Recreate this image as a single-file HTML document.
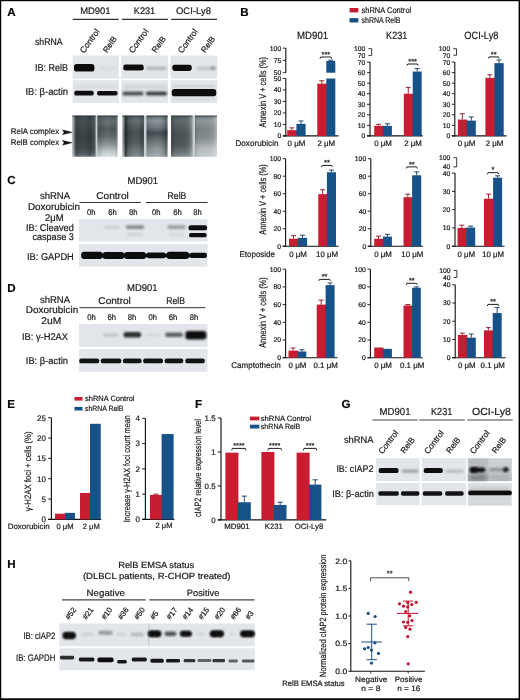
<!DOCTYPE html>
<html><head><meta charset="utf-8"><style>
html,body{margin:0;padding:0;background:#fff;}
svg{display:block;will-change:transform;text-rendering:geometricPrecision;}
text{font-family:"Liberation Sans", sans-serif;stroke:#1a1a1a;stroke-width:0.2px;}
</style></head><body>
<svg width="520" height="700" viewBox="0 0 520 700">
<rect x="0" y="0" width="520" height="700" fill="#fff"/>
<defs>
<linearGradient id="hshade" x1="0" y1="0" x2="1" y2="0"><stop offset="0" stop-color="#fff" stop-opacity="0.6"/><stop offset="0.1" stop-color="#fff" stop-opacity="0.12"/><stop offset="0.3" stop-color="#000" stop-opacity="0.12"/><stop offset="0.5" stop-color="#000" stop-opacity="0.18"/><stop offset="0.7" stop-color="#000" stop-opacity="0.1"/><stop offset="0.9" stop-color="#fff" stop-opacity="0.12"/><stop offset="1" stop-color="#fff" stop-opacity="0.6"/></linearGradient>
<filter id="b3" x="-50%" y="-100%" width="200%" height="300%"><feGaussianBlur stdDeviation="0.3"/></filter><filter id="b4" x="-50%" y="-100%" width="200%" height="300%"><feGaussianBlur stdDeviation="0.4"/></filter><filter id="b5" x="-50%" y="-100%" width="200%" height="300%"><feGaussianBlur stdDeviation="0.5"/></filter><filter id="b6" x="-50%" y="-100%" width="200%" height="300%"><feGaussianBlur stdDeviation="0.6"/></filter><filter id="b7" x="-50%" y="-100%" width="200%" height="300%"><feGaussianBlur stdDeviation="0.7"/></filter><filter id="b8" x="-50%" y="-100%" width="200%" height="300%"><feGaussianBlur stdDeviation="0.8"/></filter><filter id="b9" x="-50%" y="-100%" width="200%" height="300%"><feGaussianBlur stdDeviation="0.9"/></filter><filter id="b10" x="-50%" y="-100%" width="200%" height="300%"><feGaussianBlur stdDeviation="1.0"/></filter><filter id="b11" x="-50%" y="-100%" width="200%" height="300%"><feGaussianBlur stdDeviation="1.1"/></filter><filter id="b12" x="-50%" y="-100%" width="200%" height="300%"><feGaussianBlur stdDeviation="1.2"/></filter><filter id="b13" x="-50%" y="-100%" width="200%" height="300%"><feGaussianBlur stdDeviation="1.3"/></filter><filter id="b14" x="-50%" y="-100%" width="200%" height="300%"><feGaussianBlur stdDeviation="1.4"/></filter><filter id="b15" x="-50%" y="-100%" width="200%" height="300%"><feGaussianBlur stdDeviation="1.5"/></filter><filter id="b16" x="-50%" y="-100%" width="200%" height="300%"><feGaussianBlur stdDeviation="1.6"/></filter><filter id="b17" x="-50%" y="-100%" width="200%" height="300%"><feGaussianBlur stdDeviation="1.7"/></filter><filter id="b18" x="-50%" y="-100%" width="200%" height="300%"><feGaussianBlur stdDeviation="1.8"/></filter><filter id="b19" x="-50%" y="-100%" width="200%" height="300%"><feGaussianBlur stdDeviation="1.9"/></filter><filter id="b20" x="-50%" y="-100%" width="200%" height="300%"><feGaussianBlur stdDeviation="2.0"/></filter><filter id="b21" x="-50%" y="-100%" width="200%" height="300%"><feGaussianBlur stdDeviation="2.1"/></filter><filter id="b22" x="-50%" y="-100%" width="200%" height="300%"><feGaussianBlur stdDeviation="2.2"/></filter><filter id="b23" x="-50%" y="-100%" width="200%" height="300%"><feGaussianBlur stdDeviation="2.3"/></filter><filter id="b24" x="-50%" y="-100%" width="200%" height="300%"><feGaussianBlur stdDeviation="2.4"/></filter><filter id="b25" x="-50%" y="-100%" width="200%" height="300%"><feGaussianBlur stdDeviation="2.5"/></filter><filter id="b26" x="-50%" y="-100%" width="200%" height="300%"><feGaussianBlur stdDeviation="2.6"/></filter><filter id="b27" x="-50%" y="-100%" width="200%" height="300%"><feGaussianBlur stdDeviation="2.7"/></filter><filter id="b28" x="-50%" y="-100%" width="200%" height="300%"><feGaussianBlur stdDeviation="2.8"/></filter><filter id="b29" x="-50%" y="-100%" width="200%" height="300%"><feGaussianBlur stdDeviation="2.9"/></filter><filter id="b30" x="-50%" y="-100%" width="200%" height="300%"><feGaussianBlur stdDeviation="3.0"/></filter></defs>
<text x="7.20" y="15.60" font-size="11.6" text-anchor="start" font-weight="bold" fill="#000">A</text>
<text x="95.30" y="14.10" font-size="9.5" text-anchor="middle" font-weight="normal" fill="#1a1a1a" textLength="30.33" lengthAdjust="spacingAndGlyphs" dx="0.02">MD901</text>
<text x="144.50" y="14.10" font-size="9.5" text-anchor="middle" font-weight="normal" fill="#1a1a1a" textLength="21.46" lengthAdjust="spacingAndGlyphs" dx="-0.02">K231</text>
<text x="193.50" y="14.10" font-size="9.5" text-anchor="middle" font-weight="normal" fill="#1a1a1a" textLength="34.96" lengthAdjust="spacingAndGlyphs" dx="-0.02">OCI-Ly8</text>
<line x1="72.7" y1="19.3" x2="118.7" y2="19.3" stroke="#333" stroke-width="1.2"/>
<line x1="121.9" y1="19.3" x2="168" y2="19.3" stroke="#333" stroke-width="1.2"/>
<line x1="171.1" y1="19.3" x2="217.1" y2="19.3" stroke="#333" stroke-width="1.2"/>
<text x="35.00" y="44.50" font-size="9.8" text-anchor="start" font-weight="normal" fill="#1a1a1a" textLength="27.48" lengthAdjust="spacingAndGlyphs" dx="0.00">shRNA</text>
<text x="84.00" y="53.70" font-size="8.5" text-anchor="start" font-weight="normal" fill="#1a1a1a" transform="rotate(-54 84.00 53.70)">Control</text>
<text x="106.90" y="53.20" font-size="8.2" text-anchor="start" font-weight="normal" fill="#1a1a1a" transform="rotate(-54 106.90 53.20)">RelB</text>
<text x="132.90" y="53.70" font-size="8.5" text-anchor="start" font-weight="normal" fill="#1a1a1a" transform="rotate(-54 132.90 53.70)">Control</text>
<text x="155.80" y="53.20" font-size="8.2" text-anchor="start" font-weight="normal" fill="#1a1a1a" transform="rotate(-54 155.80 53.20)">RelB</text>
<text x="182.10" y="53.70" font-size="8.5" text-anchor="start" font-weight="normal" fill="#1a1a1a" transform="rotate(-54 182.10 53.70)">Control</text>
<text x="205.00" y="53.20" font-size="8.2" text-anchor="start" font-weight="normal" fill="#1a1a1a" transform="rotate(-54 205.00 53.20)">RelB</text>
<text x="68.00" y="71.30" font-size="10" text-anchor="end" font-weight="normal" fill="#1a1a1a" textLength="32.98" lengthAdjust="spacingAndGlyphs" dx="-0.02">IB: RelB</text>
<text x="68.00" y="95.00" font-size="10" text-anchor="end" font-weight="normal" fill="#1a1a1a" textLength="42.51" lengthAdjust="spacingAndGlyphs" dx="0.01">IB: β-actin</text>
<text x="10.80" y="134.40" font-size="8.1" text-anchor="start" font-weight="normal" fill="#1a1a1a" textLength="48.33" lengthAdjust="spacingAndGlyphs" dx="0.00">RelA complex</text>
<text x="10.80" y="144.50" font-size="8.1" text-anchor="start" font-weight="normal" fill="#1a1a1a" textLength="48.29" lengthAdjust="spacingAndGlyphs" dx="0.00">RelB complex</text>
<path d="M62.4,129.8 L72.3,132.3 L62.4,134.8 L64.0,132.3 Z" fill="#111" stroke="#111" stroke-width="0.3" stroke-linejoin="round"/>
<path d="M62.4,140.3 L72.3,142.8 L62.4,145.3 L64.0,142.8 Z" fill="#111" stroke="#111" stroke-width="0.3" stroke-linejoin="round"/>
<rect x="72.7" y="55.5" width="46.099999999999994" height="23.2" fill="#e2e5e9"/>
<rect x="72.7" y="80.2" width="46.099999999999994" height="22.7" fill="#e2e5e9"/>
<rect x="121.3" y="55.5" width="46.8" height="23.2" fill="#e2e5e9"/>
<rect x="121.3" y="80.2" width="46.8" height="22.7" fill="#e2e5e9"/>
<rect x="170.5" y="55.5" width="46.80000000000001" height="23.2" fill="#e2e5e9"/>
<rect x="170.5" y="80.2" width="46.80000000000001" height="22.7" fill="#e2e5e9"/>
<rect x="73.95" y="64.00" width="20.50" height="7.60" rx="2.92" ry="2.92" fill="#111" opacity="1.0" filter="url(#b6)"/>
<rect x="99.00" y="66.50" width="18.00" height="4.00" rx="1.54" ry="1.54" fill="#111" opacity="0.04" filter="url(#b12)"/>
<rect x="123.25" y="64.60" width="20.50" height="6.00" rx="2.31" ry="2.31" fill="#111" opacity="1.0" filter="url(#b6)"/>
<rect x="146.50" y="66.70" width="20.00" height="3.20" rx="1.23" ry="1.23" fill="#111" opacity="0.22" filter="url(#b10)"/>
<rect x="172.25" y="64.70" width="19.50" height="6.20" rx="2.38" ry="2.38" fill="#111" opacity="1.0" filter="url(#b6)"/>
<rect x="197.00" y="66.70" width="19.00" height="3.20" rx="1.23" ry="1.23" fill="#111" opacity="0.15" filter="url(#b10)"/>
<rect x="210.50" y="66.55" width="5.00" height="3.50" rx="1.35" ry="1.35" fill="#111" opacity="0.25" filter="url(#b10)"/>
<rect x="74.25" y="90.80" width="19.50" height="4.80" rx="1.85" ry="1.85" fill="#111" opacity="1.0" filter="url(#b6)"/>
<rect x="97.05" y="90.90" width="20.50" height="4.60" rx="1.77" ry="1.77" fill="#111" opacity="1.0" filter="url(#b6)"/>
<rect x="122.50" y="91.40" width="21.00" height="4.00" rx="1.54" ry="1.54" fill="#111" opacity="0.7" filter="url(#b8)"/>
<rect x="146.00" y="91.40" width="21.00" height="4.00" rx="1.54" ry="1.54" fill="#111" opacity="0.78" filter="url(#b8)"/>
<rect x="171.75" y="88.90" width="44.50" height="7.40" rx="2.85" ry="2.85" fill="#111" opacity="1.0" filter="url(#b6)"/>
<rect x="173.00" y="85.30" width="42.00" height="2.00" rx="0.77" ry="0.77" fill="#111" opacity="0.12" filter="url(#b10)"/>
<rect x="173.00" y="98.50" width="42.00" height="1.60" rx="0.62" ry="0.62" fill="#111" opacity="0.1" filter="url(#b10)"/>
<rect x="123.00" y="85.00" width="44.00" height="3.00" rx="1.15" ry="1.15" fill="#111" opacity="0.1" filter="url(#b15)"/>
<rect x="74.00" y="85.25" width="44.00" height="2.50" rx="0.96" ry="0.96" fill="#111" opacity="0.06" filter="url(#b15)"/>
<rect x="72.3" y="115.6" width="45.400000000000006" height="41.099999999999994" fill="#c9ced1"/>
<rect x="122.3" y="115.6" width="45.39999999999999" height="41.099999999999994" fill="#c9ced1"/>
<rect x="171.2" y="115.6" width="45.70000000000002" height="41.099999999999994" fill="#c9ced1"/>
<linearGradient id="em1v" x1="0" y1="0" x2="0" y2="1"><stop offset="0" stop-color="#3f484b"/><stop offset="0.15" stop-color="#4a5356"/><stop offset="0.5" stop-color="#3d4649"/><stop offset="0.8" stop-color="#454e51"/><stop offset="0.93" stop-color="#59626a"/><stop offset="1" stop-color="#7a8285"/></linearGradient>
<linearGradient id="em1h" x1="0" y1="0" x2="1" y2="0"><stop offset="0" stop-color="#ffffff" stop-opacity="0.75"/><stop offset="0.1" stop-color="#ffffff" stop-opacity="0.2"/><stop offset="0.2" stop-color="#000000" stop-opacity="0.1"/><stop offset="0.5" stop-color="#000000" stop-opacity="0.05"/><stop offset="0.85" stop-color="#000000" stop-opacity="0.12"/><stop offset="1" stop-color="#ffffff" stop-opacity="0.1"/></linearGradient>
<rect x="72.3" y="115.6" width="23.299999999999997" height="41.099999999999994" fill="url(#em1v)"/>
<rect x="72.3" y="115.6" width="23.299999999999997" height="41.099999999999994" fill="url(#em1h)"/>
<rect x="72.3" y="115.6" width="23.299999999999997" height="1.2" fill="#2a3336" opacity="0.55" filter="url(#b5)"/>
<linearGradient id="em2v" x1="0" y1="0" x2="0" y2="1"><stop offset="0" stop-color="#4e585b"/><stop offset="0.15" stop-color="#626b6e"/><stop offset="0.33" stop-color="#4e585b"/><stop offset="0.5" stop-color="#5c6669"/><stop offset="0.7" stop-color="#8a9295"/><stop offset="0.86" stop-color="#bfc5c8"/><stop offset="1" stop-color="#dfe3e5"/></linearGradient>
<linearGradient id="em2h" x1="0" y1="0" x2="1" y2="0"><stop offset="0" stop-color="#000000" stop-opacity="0.1"/><stop offset="0.15" stop-color="#000000" stop-opacity="0.05"/><stop offset="0.5" stop-color="#ffffff" stop-opacity="0.05"/><stop offset="0.85" stop-color="#000000" stop-opacity="0.0"/><stop offset="1" stop-color="#ffffff" stop-opacity="0.45"/></linearGradient>
<rect x="97.4" y="115.6" width="20.299999999999997" height="41.099999999999994" fill="url(#em2v)"/>
<rect x="97.4" y="115.6" width="20.299999999999997" height="41.099999999999994" fill="url(#em2h)"/>
<rect x="97.4" y="115.6" width="20.299999999999997" height="1.2" fill="#2a3336" opacity="0.55" filter="url(#b5)"/>
<linearGradient id="em3v" x1="0" y1="0" x2="0" y2="1"><stop offset="0" stop-color="#465053"/><stop offset="0.12" stop-color="#5e676a"/><stop offset="0.4" stop-color="#3f494c"/><stop offset="0.65" stop-color="#4a5457"/><stop offset="0.88" stop-color="#6e7679"/><stop offset="1" stop-color="#7e8689"/></linearGradient>
<linearGradient id="em3h" x1="0" y1="0" x2="1" y2="0"><stop offset="0" stop-color="#ffffff" stop-opacity="0.7"/><stop offset="0.08" stop-color="#ffffff" stop-opacity="0.2"/><stop offset="0.15" stop-color="#000000" stop-opacity="0.45"/><stop offset="0.25" stop-color="#000000" stop-opacity="0.15"/><stop offset="0.7" stop-color="#ffffff" stop-opacity="0.05"/><stop offset="0.93" stop-color="#000000" stop-opacity="0.05"/><stop offset="1" stop-color="#000000" stop-opacity="0.25"/></linearGradient>
<rect x="122.3" y="115.6" width="21.60000000000001" height="41.099999999999994" fill="url(#em3v)"/>
<rect x="122.3" y="115.6" width="21.60000000000001" height="41.099999999999994" fill="url(#em3h)"/>
<rect x="122.3" y="115.6" width="21.60000000000001" height="1.2" fill="#2a3336" opacity="0.55" filter="url(#b5)"/>
<linearGradient id="em4v" x1="0" y1="0" x2="0" y2="1"><stop offset="0" stop-color="#5a6366"/><stop offset="0.12" stop-color="#8a9295"/><stop offset="0.3" stop-color="#67707a"/><stop offset="0.42" stop-color="#3e484b"/><stop offset="0.55" stop-color="#5a6366"/><stop offset="0.8" stop-color="#8a9295"/><stop offset="1" stop-color="#a3aaad"/></linearGradient>
<linearGradient id="em4h" x1="0" y1="0" x2="1" y2="0"><stop offset="0" stop-color="#000000" stop-opacity="0.1"/><stop offset="0.1" stop-color="#000000" stop-opacity="0.05"/><stop offset="0.5" stop-color="#ffffff" stop-opacity="0.05"/><stop offset="0.85" stop-color="#000000" stop-opacity="0.1"/><stop offset="0.93" stop-color="#000000" stop-opacity="0.25"/><stop offset="1" stop-color="#ffffff" stop-opacity="0.2"/></linearGradient>
<rect x="146.5" y="115.6" width="21.19999999999999" height="41.099999999999994" fill="url(#em4v)"/>
<rect x="146.5" y="115.6" width="21.19999999999999" height="41.099999999999994" fill="url(#em4h)"/>
<rect x="146.5" y="115.6" width="21.19999999999999" height="1.2" fill="#2a3336" opacity="0.55" filter="url(#b5)"/>
<linearGradient id="em5v" x1="0" y1="0" x2="0" y2="1"><stop offset="0" stop-color="#4e585b"/><stop offset="0.12" stop-color="#626b6e"/><stop offset="0.45" stop-color="#4a5457"/><stop offset="0.7" stop-color="#4e585b"/><stop offset="0.88" stop-color="#6a7376"/><stop offset="1" stop-color="#8a9295"/></linearGradient>
<linearGradient id="em5h" x1="0" y1="0" x2="1" y2="0"><stop offset="0" stop-color="#000000" stop-opacity="0.3"/><stop offset="0.08" stop-color="#000000" stop-opacity="0.1"/><stop offset="0.5" stop-color="#000000" stop-opacity="0.0"/><stop offset="0.85" stop-color="#ffffff" stop-opacity="0.1"/><stop offset="1" stop-color="#ffffff" stop-opacity="0.35"/></linearGradient>
<rect x="171.2" y="115.6" width="21.30000000000001" height="41.099999999999994" fill="url(#em5v)"/>
<rect x="171.2" y="115.6" width="21.30000000000001" height="41.099999999999994" fill="url(#em5h)"/>
<rect x="171.2" y="115.6" width="21.30000000000001" height="1.2" fill="#2a3336" opacity="0.55" filter="url(#b5)"/>
<linearGradient id="em6v" x1="0" y1="0" x2="0" y2="1"><stop offset="0" stop-color="#6a7376"/><stop offset="0.12" stop-color="#8d9598"/><stop offset="0.35" stop-color="#7a8285"/><stop offset="0.55" stop-color="#858d90"/><stop offset="0.8" stop-color="#b4babd"/><stop offset="1" stop-color="#c8cdd0"/></linearGradient>
<linearGradient id="em6h" x1="0" y1="0" x2="1" y2="0"><stop offset="0" stop-color="#000000" stop-opacity="0.15"/><stop offset="0.1" stop-color="#000000" stop-opacity="0.05"/><stop offset="0.5" stop-color="#ffffff" stop-opacity="0.0"/><stop offset="0.8" stop-color="#ffffff" stop-opacity="0.1"/><stop offset="1" stop-color="#ffffff" stop-opacity="0.35"/></linearGradient>
<rect x="195.0" y="115.6" width="21.900000000000006" height="41.099999999999994" fill="url(#em6v)"/>
<rect x="195.0" y="115.6" width="21.900000000000006" height="41.099999999999994" fill="url(#em6h)"/>
<rect x="195.0" y="115.6" width="21.900000000000006" height="1.2" fill="#2a3336" opacity="0.55" filter="url(#b5)"/>
<rect x="75.25" y="116.6" width="2.5" height="39.10" fill="#1c2528" opacity="0.25" filter="url(#b8)"/>
<rect x="87.50" y="116.6" width="3" height="39.10" fill="#1c2528" opacity="0.2" filter="url(#b8)"/>
<rect x="124.70" y="116.6" width="2.2" height="39.10" fill="#1c2528" opacity="0.45" filter="url(#b8)"/>
<rect x="140.75" y="116.6" width="1.5" height="39.10" fill="#1c2528" opacity="0.2" filter="url(#b8)"/>
<rect x="164.70" y="116.6" width="1.6" height="39.10" fill="#1c2528" opacity="0.3" filter="url(#b8)"/>
<rect x="171.65" y="116.6" width="1.3" height="39.10" fill="#1c2528" opacity="0.3" filter="url(#b8)"/>
<rect x="99.00" y="116.6" width="2" height="39.10" fill="#1c2528" opacity="0.1" filter="url(#b8)"/>
<text x="240.30" y="16.00" font-size="11.6" text-anchor="start" font-weight="bold" fill="#000">B</text>
<rect x="349.6" y="8.0" width="8.7" height="4.4" fill="#c81d31"/>
<rect x="349.6" y="18.1" width="8.7" height="4.4" fill="#165288"/>
<text x="361.50" y="12.60" font-size="8.4" text-anchor="start" font-weight="normal" fill="#1a1a1a" textLength="49.73" lengthAdjust="spacingAndGlyphs" dx="0.00">shRNA Control</text>
<text x="361.50" y="22.80" font-size="8.4" text-anchor="start" font-weight="normal" fill="#1a1a1a" textLength="38.98" lengthAdjust="spacingAndGlyphs" dx="0.00">shRNA RelB</text>
<text x="312.60" y="39.00" font-size="10.5" text-anchor="middle" font-weight="normal" fill="#1a1a1a" textLength="31.03" lengthAdjust="spacingAndGlyphs" dx="0.02">MD901</text>
<text x="396.70" y="38.60" font-size="10.5" text-anchor="middle" font-weight="normal" fill="#1a1a1a" textLength="21.16" lengthAdjust="spacingAndGlyphs" dx="-0.02">K231</text>
<text x="481.40" y="39.00" font-size="10.5" text-anchor="middle" font-weight="normal" fill="#1a1a1a" textLength="34.26" lengthAdjust="spacingAndGlyphs" dx="-0.02">OCI-Ly8</text>
<line x1="285.8" y1="48.1" x2="285.8" y2="72.7" stroke="#111" stroke-width="1.1"/>
<line x1="282.8" y1="48.1" x2="285.8" y2="48.1" stroke="#111" stroke-width="0.9"/>
<text x="281.20" y="50.51" font-size="6.8" text-anchor="end" font-weight="normal" fill="#222">100</text>
<line x1="282.8" y1="60.400000000000006" x2="285.8" y2="60.400000000000006" stroke="#111" stroke-width="0.9"/>
<text x="281.20" y="62.81" font-size="6.8" text-anchor="end" font-weight="normal" fill="#222">75</text>
<line x1="282.8" y1="72.7" x2="285.8" y2="72.7" stroke="#111" stroke-width="0.9"/>
<text x="281.20" y="75.11" font-size="6.8" text-anchor="end" font-weight="normal" fill="#222">50</text>
<line x1="285.8" y1="78.5" x2="285.8" y2="136.4" stroke="#111" stroke-width="1.1"/>
<line x1="282.8" y1="78.5" x2="285.8" y2="78.5" stroke="#111" stroke-width="0.9"/>
<text x="281.20" y="80.91" font-size="6.8" text-anchor="end" font-weight="normal" fill="#222">50</text>
<line x1="282.8" y1="89.98" x2="285.8" y2="89.98" stroke="#111" stroke-width="0.9"/>
<text x="281.20" y="92.39" font-size="6.8" text-anchor="end" font-weight="normal" fill="#222">40</text>
<line x1="282.8" y1="101.46000000000001" x2="285.8" y2="101.46000000000001" stroke="#111" stroke-width="0.9"/>
<text x="281.20" y="103.87" font-size="6.8" text-anchor="end" font-weight="normal" fill="#222">30</text>
<line x1="282.8" y1="112.94" x2="285.8" y2="112.94" stroke="#111" stroke-width="0.9"/>
<text x="281.20" y="115.35" font-size="6.8" text-anchor="end" font-weight="normal" fill="#222">20</text>
<line x1="282.8" y1="124.42" x2="285.8" y2="124.42" stroke="#111" stroke-width="0.9"/>
<text x="281.20" y="126.83" font-size="6.8" text-anchor="end" font-weight="normal" fill="#222">10</text>
<line x1="282.8" y1="135.9" x2="285.8" y2="135.9" stroke="#111" stroke-width="0.9"/>
<text x="281.20" y="138.31" font-size="6.8" text-anchor="end" font-weight="normal" fill="#222">0</text>
<line x1="282.8" y1="135.9" x2="338.5" y2="135.9" stroke="#111" stroke-width="1.1"/>
<rect x="287.20" y="130.16" width="9.80" height="5.74" fill="#c81d31"/>
<line x1="291.8" y1="130.16" x2="291.8" y2="127.864" stroke="#8a1020" stroke-width="0.9"/>
<line x1="289.3" y1="127.864" x2="294.3" y2="127.864" stroke="#8a1020" stroke-width="0.9"/>
<rect x="296.40" y="123.85" width="9.20" height="12.05" fill="#165288"/>
<line x1="301.0" y1="123.846" x2="301.0" y2="120.976" stroke="#0c3560" stroke-width="0.9"/>
<line x1="298.5" y1="120.976" x2="303.5" y2="120.976" stroke="#0c3560" stroke-width="0.9"/>
<rect x="317.30" y="83.67" width="9.60" height="52.23" fill="#c81d31"/>
<line x1="321.8" y1="83.666" x2="321.8" y2="80.79599999999999" stroke="#8a1020" stroke-width="0.9"/>
<line x1="319.3" y1="80.79599999999999" x2="324.3" y2="80.79599999999999" stroke="#8a1020" stroke-width="0.9"/>
<rect x="326.30" y="78.50" width="9.00" height="57.40" fill="#165288"/>
<rect x="326.30" y="60.89" width="9.00" height="11.81" fill="#165288"/>
<line x1="330.8" y1="60.892" x2="330.8" y2="60.154" stroke="#0c3560" stroke-width="0.9"/>
<line x1="328.3" y1="60.154" x2="333.3" y2="60.154" stroke="#0c3560" stroke-width="0.9"/>
<polyline points="320,58.6 320.7,57 331.0,57 331.7,58.6" fill="none" stroke="#111" stroke-width="0.95"/>
<text x="325.85" y="56.60" font-size="7.4" text-anchor="middle" font-weight="normal" fill="#111">***</text>
<text x="296.40" y="146.30" font-size="7.9" text-anchor="middle" font-weight="normal" fill="#111">0 μM</text>
<text x="326.30" y="146.30" font-size="7.9" text-anchor="middle" font-weight="normal" fill="#111">2 μM</text>
<line x1="370.0" y1="62.1" x2="370.0" y2="136.4" stroke="#111" stroke-width="1.1"/>
<line x1="367.0" y1="62.099999999999994" x2="370.0" y2="62.099999999999994" stroke="#111" stroke-width="0.9"/>
<text x="365.40" y="64.51" font-size="6.8" text-anchor="end" font-weight="normal" fill="#222">70</text>
<line x1="367.0" y1="72.64285714285714" x2="370.0" y2="72.64285714285714" stroke="#111" stroke-width="0.9"/>
<text x="365.40" y="75.05" font-size="6.8" text-anchor="end" font-weight="normal" fill="#222">60</text>
<line x1="367.0" y1="83.18571428571428" x2="370.0" y2="83.18571428571428" stroke="#111" stroke-width="0.9"/>
<text x="365.40" y="85.59" font-size="6.8" text-anchor="end" font-weight="normal" fill="#222">50</text>
<line x1="367.0" y1="93.72857142857143" x2="370.0" y2="93.72857142857143" stroke="#111" stroke-width="0.9"/>
<text x="365.40" y="96.14" font-size="6.8" text-anchor="end" font-weight="normal" fill="#222">40</text>
<line x1="367.0" y1="104.27142857142857" x2="370.0" y2="104.27142857142857" stroke="#111" stroke-width="0.9"/>
<text x="365.40" y="106.68" font-size="6.8" text-anchor="end" font-weight="normal" fill="#222">30</text>
<line x1="367.0" y1="114.81428571428572" x2="370.0" y2="114.81428571428572" stroke="#111" stroke-width="0.9"/>
<text x="365.40" y="117.22" font-size="6.8" text-anchor="end" font-weight="normal" fill="#222">20</text>
<line x1="367.0" y1="125.35714285714286" x2="370.0" y2="125.35714285714286" stroke="#111" stroke-width="0.9"/>
<text x="365.40" y="127.76" font-size="6.8" text-anchor="end" font-weight="normal" fill="#222">10</text>
<line x1="367.0" y1="135.9" x2="370.0" y2="135.9" stroke="#111" stroke-width="0.9"/>
<text x="365.40" y="138.31" font-size="6.8" text-anchor="end" font-weight="normal" fill="#222">0</text>
<polyline points="368.4,48.7 371.7,48.7 371.7,55.4 368.4,55.4" fill="none" stroke="#222" stroke-width="0.9"/>
<text x="365.40" y="51.11" font-size="6.8" text-anchor="end" font-weight="normal" fill="#222">100</text>
<text x="365.40" y="57.81" font-size="6.8" text-anchor="end" font-weight="normal" fill="#222">70</text>
<line x1="367.0" y1="135.9" x2="422.7" y2="135.9" stroke="#111" stroke-width="1.1"/>
<rect x="374.20" y="125.88" width="9.30" height="10.02" fill="#c81d31"/>
<line x1="378.55" y1="125.88428571428572" x2="378.55" y2="124.30285714285715" stroke="#8a1020" stroke-width="0.9"/>
<line x1="376.05" y1="124.30285714285715" x2="381.05" y2="124.30285714285715" stroke="#8a1020" stroke-width="0.9"/>
<rect x="382.90" y="125.88" width="9.00" height="10.02" fill="#165288"/>
<line x1="387.4" y1="125.88428571428572" x2="387.4" y2="123.77571428571429" stroke="#0c3560" stroke-width="0.9"/>
<line x1="384.9" y1="123.77571428571429" x2="389.9" y2="123.77571428571429" stroke="#0c3560" stroke-width="0.9"/>
<rect x="403.80" y="93.73" width="9.50" height="42.17" fill="#c81d31"/>
<line x1="408.25" y1="93.72857142857143" x2="408.25" y2="87.40285714285713" stroke="#8a1020" stroke-width="0.9"/>
<line x1="405.75" y1="87.40285714285713" x2="410.75" y2="87.40285714285713" stroke="#8a1020" stroke-width="0.9"/>
<rect x="412.70" y="71.59" width="9.00" height="64.31" fill="#165288"/>
<line x1="417.2" y1="71.58857142857141" x2="417.2" y2="68.42571428571428" stroke="#0c3560" stroke-width="0.9"/>
<line x1="414.7" y1="68.42571428571428" x2="419.7" y2="68.42571428571428" stroke="#0c3560" stroke-width="0.9"/>
<polyline points="407,65.6 407.7,64 417.5,64 418.2,65.6" fill="none" stroke="#111" stroke-width="0.95"/>
<text x="412.60" y="63.60" font-size="7.4" text-anchor="middle" font-weight="normal" fill="#111">***</text>
<text x="383.00" y="146.30" font-size="7.9" text-anchor="middle" font-weight="normal" fill="#111">0 μM</text>
<text x="413.00" y="146.30" font-size="7.9" text-anchor="middle" font-weight="normal" fill="#111">2 μM</text>
<line x1="454.8" y1="62.1" x2="454.8" y2="136.4" stroke="#111" stroke-width="1.1"/>
<line x1="451.8" y1="62.099999999999994" x2="454.8" y2="62.099999999999994" stroke="#111" stroke-width="0.9"/>
<text x="450.20" y="64.51" font-size="6.8" text-anchor="end" font-weight="normal" fill="#222">70</text>
<line x1="451.8" y1="72.64285714285714" x2="454.8" y2="72.64285714285714" stroke="#111" stroke-width="0.9"/>
<text x="450.20" y="75.05" font-size="6.8" text-anchor="end" font-weight="normal" fill="#222">60</text>
<line x1="451.8" y1="83.18571428571428" x2="454.8" y2="83.18571428571428" stroke="#111" stroke-width="0.9"/>
<text x="450.20" y="85.59" font-size="6.8" text-anchor="end" font-weight="normal" fill="#222">50</text>
<line x1="451.8" y1="93.72857142857143" x2="454.8" y2="93.72857142857143" stroke="#111" stroke-width="0.9"/>
<text x="450.20" y="96.14" font-size="6.8" text-anchor="end" font-weight="normal" fill="#222">40</text>
<line x1="451.8" y1="104.27142857142857" x2="454.8" y2="104.27142857142857" stroke="#111" stroke-width="0.9"/>
<text x="450.20" y="106.68" font-size="6.8" text-anchor="end" font-weight="normal" fill="#222">30</text>
<line x1="451.8" y1="114.81428571428572" x2="454.8" y2="114.81428571428572" stroke="#111" stroke-width="0.9"/>
<text x="450.20" y="117.22" font-size="6.8" text-anchor="end" font-weight="normal" fill="#222">20</text>
<line x1="451.8" y1="125.35714285714286" x2="454.8" y2="125.35714285714286" stroke="#111" stroke-width="0.9"/>
<text x="450.20" y="127.76" font-size="6.8" text-anchor="end" font-weight="normal" fill="#222">10</text>
<line x1="451.8" y1="135.9" x2="454.8" y2="135.9" stroke="#111" stroke-width="0.9"/>
<text x="450.20" y="138.31" font-size="6.8" text-anchor="end" font-weight="normal" fill="#222">0</text>
<polyline points="453.2,48.7 456.5,48.7 456.5,55.2 453.2,55.2" fill="none" stroke="#222" stroke-width="0.9"/>
<text x="450.20" y="51.11" font-size="6.8" text-anchor="end" font-weight="normal" fill="#222">100</text>
<text x="450.20" y="57.61" font-size="6.8" text-anchor="end" font-weight="normal" fill="#222">70</text>
<line x1="451.8" y1="135.9" x2="506.5" y2="135.9" stroke="#111" stroke-width="1.1"/>
<rect x="457.90" y="119.56" width="9.40" height="16.34" fill="#c81d31"/>
<line x1="462.3" y1="119.55857142857144" x2="462.3" y2="113.76" stroke="#8a1020" stroke-width="0.9"/>
<line x1="459.8" y1="113.76" x2="464.8" y2="113.76" stroke="#8a1020" stroke-width="0.9"/>
<rect x="466.70" y="120.61" width="9.10" height="15.29" fill="#165288"/>
<line x1="471.25" y1="120.61285714285715" x2="471.25" y2="116.92285714285714" stroke="#0c3560" stroke-width="0.9"/>
<line x1="468.75" y1="116.92285714285714" x2="473.75" y2="116.92285714285714" stroke="#0c3560" stroke-width="0.9"/>
<rect x="485.40" y="77.91" width="9.60" height="57.99" fill="#c81d31"/>
<line x1="489.9" y1="77.91428571428571" x2="489.9" y2="74.75142857142856" stroke="#8a1020" stroke-width="0.9"/>
<line x1="487.4" y1="74.75142857142856" x2="492.4" y2="74.75142857142856" stroke="#8a1020" stroke-width="0.9"/>
<rect x="494.40" y="63.15" width="9.30" height="72.75" fill="#165288"/>
<line x1="499.04999999999995" y1="63.154285714285706" x2="499.04999999999995" y2="59.99142857142857" stroke="#0c3560" stroke-width="0.9"/>
<line x1="496.54999999999995" y1="59.99142857142857" x2="501.54999999999995" y2="59.99142857142857" stroke="#0c3560" stroke-width="0.9"/>
<polyline points="488.3,58.5 489.0,56.9 498.5,56.9 499.2,58.5" fill="none" stroke="#111" stroke-width="0.95"/>
<text x="493.75" y="56.50" font-size="7.4" text-anchor="middle" font-weight="normal" fill="#111">**</text>
<text x="466.50" y="146.30" font-size="7.9" text-anchor="middle" font-weight="normal" fill="#111">0 μM</text>
<text x="494.50" y="146.30" font-size="7.9" text-anchor="middle" font-weight="normal" fill="#111">2 μM</text>
<text x="278.50" y="146.30" font-size="8.3" text-anchor="end" font-weight="normal" fill="#1a1a1a" textLength="43.10" lengthAdjust="spacingAndGlyphs" dx="0.00">Doxorubicin</text>
<line x1="285.6" y1="158.7" x2="285.6" y2="246.7" stroke="#111" stroke-width="1.1"/>
<line x1="282.6" y1="158.7" x2="285.6" y2="158.7" stroke="#111" stroke-width="0.9"/>
<text x="281.00" y="161.11" font-size="6.8" text-anchor="end" font-weight="normal" fill="#222">100</text>
<line x1="282.6" y1="176.2" x2="285.6" y2="176.2" stroke="#111" stroke-width="0.9"/>
<text x="281.00" y="178.61" font-size="6.8" text-anchor="end" font-weight="normal" fill="#222">80</text>
<line x1="282.6" y1="193.7" x2="285.6" y2="193.7" stroke="#111" stroke-width="0.9"/>
<text x="281.00" y="196.11" font-size="6.8" text-anchor="end" font-weight="normal" fill="#222">60</text>
<line x1="282.6" y1="211.2" x2="285.6" y2="211.2" stroke="#111" stroke-width="0.9"/>
<text x="281.00" y="213.61" font-size="6.8" text-anchor="end" font-weight="normal" fill="#222">40</text>
<line x1="282.6" y1="228.7" x2="285.6" y2="228.7" stroke="#111" stroke-width="0.9"/>
<text x="281.00" y="231.11" font-size="6.8" text-anchor="end" font-weight="normal" fill="#222">20</text>
<line x1="282.6" y1="246.2" x2="285.6" y2="246.2" stroke="#111" stroke-width="0.9"/>
<text x="281.00" y="248.61" font-size="6.8" text-anchor="end" font-weight="normal" fill="#222">0</text>
<line x1="282.6" y1="246.2" x2="338.5" y2="246.2" stroke="#111" stroke-width="1.1"/>
<rect x="289.00" y="238.76" width="9.60" height="7.44" fill="#c81d31"/>
<line x1="293.5" y1="238.7625" x2="293.5" y2="235.7" stroke="#8a1020" stroke-width="0.9"/>
<line x1="291.0" y1="235.7" x2="296.0" y2="235.7" stroke="#8a1020" stroke-width="0.9"/>
<rect x="298.00" y="237.89" width="9.10" height="8.31" fill="#165288"/>
<line x1="302.55" y1="237.8875" x2="302.55" y2="235.2625" stroke="#0c3560" stroke-width="0.9"/>
<line x1="300.05" y1="235.2625" x2="305.05" y2="235.2625" stroke="#0c3560" stroke-width="0.9"/>
<rect x="318.30" y="194.14" width="9.20" height="52.06" fill="#c81d31"/>
<line x1="322.59999999999997" y1="194.1375" x2="322.59999999999997" y2="189.7625" stroke="#8a1020" stroke-width="0.9"/>
<line x1="320.09999999999997" y1="189.7625" x2="325.09999999999997" y2="189.7625" stroke="#8a1020" stroke-width="0.9"/>
<rect x="326.90" y="172.26" width="9.10" height="73.94" fill="#165288"/>
<line x1="331.45" y1="172.2625" x2="331.45" y2="170.075" stroke="#0c3560" stroke-width="0.9"/>
<line x1="328.95" y1="170.075" x2="333.95" y2="170.075" stroke="#0c3560" stroke-width="0.9"/>
<polyline points="321.5,167.0 322.2,165.4 331.6,165.4 332.3,167.0" fill="none" stroke="#111" stroke-width="0.95"/>
<text x="326.90" y="165.00" font-size="7.4" text-anchor="middle" font-weight="normal" fill="#111">**</text>
<text x="298.05" y="256.80" font-size="7.9" text-anchor="middle" font-weight="normal" fill="#111">0 μM</text>
<text x="327.15" y="256.80" font-size="7.9" text-anchor="middle" font-weight="normal" fill="#111">10 μM</text>
<line x1="370.8" y1="158.7" x2="370.8" y2="246.7" stroke="#111" stroke-width="1.1"/>
<line x1="367.8" y1="158.7" x2="370.8" y2="158.7" stroke="#111" stroke-width="0.9"/>
<text x="366.20" y="161.11" font-size="6.8" text-anchor="end" font-weight="normal" fill="#222">100</text>
<line x1="367.8" y1="176.2" x2="370.8" y2="176.2" stroke="#111" stroke-width="0.9"/>
<text x="366.20" y="178.61" font-size="6.8" text-anchor="end" font-weight="normal" fill="#222">80</text>
<line x1="367.8" y1="193.7" x2="370.8" y2="193.7" stroke="#111" stroke-width="0.9"/>
<text x="366.20" y="196.11" font-size="6.8" text-anchor="end" font-weight="normal" fill="#222">60</text>
<line x1="367.8" y1="211.2" x2="370.8" y2="211.2" stroke="#111" stroke-width="0.9"/>
<text x="366.20" y="213.61" font-size="6.8" text-anchor="end" font-weight="normal" fill="#222">40</text>
<line x1="367.8" y1="228.7" x2="370.8" y2="228.7" stroke="#111" stroke-width="0.9"/>
<text x="366.20" y="231.11" font-size="6.8" text-anchor="end" font-weight="normal" fill="#222">20</text>
<line x1="367.8" y1="246.2" x2="370.8" y2="246.2" stroke="#111" stroke-width="0.9"/>
<text x="366.20" y="248.61" font-size="6.8" text-anchor="end" font-weight="normal" fill="#222">0</text>
<line x1="367.8" y1="246.2" x2="422.7" y2="246.2" stroke="#111" stroke-width="1.1"/>
<rect x="374.20" y="238.76" width="9.30" height="7.44" fill="#c81d31"/>
<line x1="378.55" y1="238.7625" x2="378.55" y2="236.1375" stroke="#8a1020" stroke-width="0.9"/>
<line x1="376.05" y1="236.1375" x2="381.05" y2="236.1375" stroke="#8a1020" stroke-width="0.9"/>
<rect x="382.90" y="236.57" width="9.00" height="9.62" fill="#165288"/>
<line x1="387.4" y1="236.575" x2="387.4" y2="234.3875" stroke="#0c3560" stroke-width="0.9"/>
<line x1="384.9" y1="234.3875" x2="389.9" y2="234.3875" stroke="#0c3560" stroke-width="0.9"/>
<rect x="403.50" y="197.20" width="9.20" height="49.00" fill="#c81d31"/>
<line x1="407.8" y1="197.2" x2="407.8" y2="194.1375" stroke="#8a1020" stroke-width="0.9"/>
<line x1="405.3" y1="194.1375" x2="410.3" y2="194.1375" stroke="#8a1020" stroke-width="0.9"/>
<rect x="412.10" y="175.32" width="9.10" height="70.88" fill="#165288"/>
<line x1="416.65" y1="175.325" x2="416.65" y2="171.825" stroke="#0c3560" stroke-width="0.9"/>
<line x1="414.15" y1="171.825" x2="419.15" y2="171.825" stroke="#0c3560" stroke-width="0.9"/>
<polyline points="406.3,168.5 407.0,166.9 416.6,166.9 417.3,168.5" fill="none" stroke="#111" stroke-width="0.95"/>
<text x="411.80" y="166.50" font-size="7.4" text-anchor="middle" font-weight="normal" fill="#111">**</text>
<text x="383.05" y="256.80" font-size="7.9" text-anchor="middle" font-weight="normal" fill="#111">0 μM</text>
<text x="412.35" y="256.80" font-size="7.9" text-anchor="middle" font-weight="normal" fill="#111">10 μM</text>
<line x1="455" y1="173.1" x2="455" y2="246.7" stroke="#111" stroke-width="1.1"/>
<line x1="452" y1="173.1" x2="455" y2="173.1" stroke="#111" stroke-width="0.9"/>
<text x="450.40" y="175.51" font-size="6.8" text-anchor="end" font-weight="normal" fill="#222">40</text>
<line x1="452" y1="191.375" x2="455" y2="191.375" stroke="#111" stroke-width="0.9"/>
<text x="450.40" y="193.78" font-size="6.8" text-anchor="end" font-weight="normal" fill="#222">30</text>
<line x1="452" y1="209.64999999999998" x2="455" y2="209.64999999999998" stroke="#111" stroke-width="0.9"/>
<text x="450.40" y="212.06" font-size="6.8" text-anchor="end" font-weight="normal" fill="#222">20</text>
<line x1="452" y1="227.92499999999998" x2="455" y2="227.92499999999998" stroke="#111" stroke-width="0.9"/>
<text x="450.40" y="230.33" font-size="6.8" text-anchor="end" font-weight="normal" fill="#222">10</text>
<line x1="452" y1="246.2" x2="455" y2="246.2" stroke="#111" stroke-width="0.9"/>
<text x="450.40" y="248.61" font-size="6.8" text-anchor="end" font-weight="normal" fill="#222">0</text>
<polyline points="453.4,157.7 456.7,157.7 456.7,166.9 453.4,166.9" fill="none" stroke="#222" stroke-width="0.9"/>
<text x="450.40" y="160.11" font-size="6.8" text-anchor="end" font-weight="normal" fill="#222">100</text>
<text x="450.40" y="169.31" font-size="6.8" text-anchor="end" font-weight="normal" fill="#222">40</text>
<line x1="452" y1="246.2" x2="504.6" y2="246.2" stroke="#111" stroke-width="1.1"/>
<rect x="457.50" y="227.92" width="9.30" height="18.28" fill="#c81d31"/>
<line x1="461.84999999999997" y1="227.92499999999998" x2="461.84999999999997" y2="225.18374999999997" stroke="#8a1020" stroke-width="0.9"/>
<line x1="459.34999999999997" y1="225.18374999999997" x2="464.34999999999997" y2="225.18374999999997" stroke="#8a1020" stroke-width="0.9"/>
<rect x="466.20" y="227.56" width="9.00" height="18.64" fill="#165288"/>
<line x1="470.7" y1="227.55949999999999" x2="470.7" y2="226.0975" stroke="#0c3560" stroke-width="0.9"/>
<line x1="468.2" y1="226.0975" x2="473.2" y2="226.0975" stroke="#0c3560" stroke-width="0.9"/>
<rect x="484.00" y="198.69" width="9.70" height="47.51" fill="#c81d31"/>
<line x1="488.55" y1="198.685" x2="488.55" y2="194.11624999999998" stroke="#8a1020" stroke-width="0.9"/>
<line x1="486.05" y1="194.11624999999998" x2="491.05" y2="194.11624999999998" stroke="#8a1020" stroke-width="0.9"/>
<rect x="493.10" y="177.67" width="9.00" height="68.53" fill="#165288"/>
<line x1="497.6" y1="177.66875" x2="497.6" y2="175.84125" stroke="#0c3560" stroke-width="0.9"/>
<line x1="495.1" y1="175.84125" x2="500.1" y2="175.84125" stroke="#0c3560" stroke-width="0.9"/>
<polyline points="487.3,174.29999999999998 488.0,172.7 498.1,172.7 498.8,174.29999999999998" fill="none" stroke="#111" stroke-width="0.95"/>
<text x="493.05" y="172.30" font-size="7.4" text-anchor="middle" font-weight="normal" fill="#111">*</text>
<text x="466.30" y="256.80" font-size="7.9" text-anchor="middle" font-weight="normal" fill="#111">0 μM</text>
<text x="493.10" y="256.80" font-size="7.9" text-anchor="middle" font-weight="normal" fill="#111">10 μM</text>
<text x="275.00" y="256.80" font-size="8.3" text-anchor="end" font-weight="normal" fill="#1a1a1a" textLength="35.48" lengthAdjust="spacingAndGlyphs" dx="-0.02">Etoposide</text>
<line x1="285.6" y1="269.2" x2="285.6" y2="358.2" stroke="#111" stroke-width="1.1"/>
<line x1="282.6" y1="269.2" x2="285.6" y2="269.2" stroke="#111" stroke-width="0.9"/>
<text x="281.00" y="271.61" font-size="6.8" text-anchor="end" font-weight="normal" fill="#222">100</text>
<line x1="282.6" y1="286.9" x2="285.6" y2="286.9" stroke="#111" stroke-width="0.9"/>
<text x="281.00" y="289.31" font-size="6.8" text-anchor="end" font-weight="normal" fill="#222">80</text>
<line x1="282.6" y1="304.59999999999997" x2="285.6" y2="304.59999999999997" stroke="#111" stroke-width="0.9"/>
<text x="281.00" y="307.01" font-size="6.8" text-anchor="end" font-weight="normal" fill="#222">60</text>
<line x1="282.6" y1="322.3" x2="285.6" y2="322.3" stroke="#111" stroke-width="0.9"/>
<text x="281.00" y="324.71" font-size="6.8" text-anchor="end" font-weight="normal" fill="#222">40</text>
<line x1="282.6" y1="340.0" x2="285.6" y2="340.0" stroke="#111" stroke-width="0.9"/>
<text x="281.00" y="342.41" font-size="6.8" text-anchor="end" font-weight="normal" fill="#222">20</text>
<line x1="282.6" y1="357.7" x2="285.6" y2="357.7" stroke="#111" stroke-width="0.9"/>
<text x="281.00" y="360.11" font-size="6.8" text-anchor="end" font-weight="normal" fill="#222">0</text>
<line x1="282.6" y1="357.7" x2="337.5" y2="357.7" stroke="#111" stroke-width="1.1"/>
<rect x="288.50" y="350.62" width="9.60" height="7.08" fill="#c81d31"/>
<line x1="293.0" y1="350.62" x2="293.0" y2="347.965" stroke="#8a1020" stroke-width="0.9"/>
<line x1="290.5" y1="347.965" x2="295.5" y2="347.965" stroke="#8a1020" stroke-width="0.9"/>
<rect x="297.50" y="351.50" width="8.80" height="6.19" fill="#165288"/>
<line x1="301.9" y1="351.505" x2="301.9" y2="349.735" stroke="#0c3560" stroke-width="0.9"/>
<line x1="299.4" y1="349.735" x2="304.4" y2="349.735" stroke="#0c3560" stroke-width="0.9"/>
<rect x="316.70" y="304.60" width="9.50" height="53.10" fill="#c81d31"/>
<line x1="321.15000000000003" y1="304.59999999999997" x2="321.15000000000003" y2="300.175" stroke="#8a1020" stroke-width="0.9"/>
<line x1="318.65000000000003" y1="300.175" x2="323.65000000000003" y2="300.175" stroke="#8a1020" stroke-width="0.9"/>
<rect x="325.60" y="285.13" width="9.00" height="72.57" fill="#165288"/>
<line x1="330.1" y1="285.13" x2="330.1" y2="282.9175" stroke="#0c3560" stroke-width="0.9"/>
<line x1="327.6" y1="282.9175" x2="332.6" y2="282.9175" stroke="#0c3560" stroke-width="0.9"/>
<polyline points="318.7,281.0 319.4,279.4 329.7,279.4 330.4,281.0" fill="none" stroke="#111" stroke-width="0.95"/>
<text x="324.55" y="279.00" font-size="7.4" text-anchor="middle" font-weight="normal" fill="#111">**</text>
<text x="297.40" y="368.30" font-size="7.9" text-anchor="middle" font-weight="normal" fill="#111">0 μM</text>
<text x="325.65" y="368.30" font-size="7.9" text-anchor="middle" font-weight="normal" fill="#111">0.1 μM</text>
<line x1="370.4" y1="269.2" x2="370.4" y2="358.2" stroke="#111" stroke-width="1.1"/>
<line x1="367.4" y1="269.2" x2="370.4" y2="269.2" stroke="#111" stroke-width="0.9"/>
<text x="365.80" y="271.61" font-size="6.8" text-anchor="end" font-weight="normal" fill="#222">100</text>
<line x1="367.4" y1="286.9" x2="370.4" y2="286.9" stroke="#111" stroke-width="0.9"/>
<text x="365.80" y="289.31" font-size="6.8" text-anchor="end" font-weight="normal" fill="#222">80</text>
<line x1="367.4" y1="304.59999999999997" x2="370.4" y2="304.59999999999997" stroke="#111" stroke-width="0.9"/>
<text x="365.80" y="307.01" font-size="6.8" text-anchor="end" font-weight="normal" fill="#222">60</text>
<line x1="367.4" y1="322.3" x2="370.4" y2="322.3" stroke="#111" stroke-width="0.9"/>
<text x="365.80" y="324.71" font-size="6.8" text-anchor="end" font-weight="normal" fill="#222">40</text>
<line x1="367.4" y1="340.0" x2="370.4" y2="340.0" stroke="#111" stroke-width="0.9"/>
<text x="365.80" y="342.41" font-size="6.8" text-anchor="end" font-weight="normal" fill="#222">20</text>
<line x1="367.4" y1="357.7" x2="370.4" y2="357.7" stroke="#111" stroke-width="0.9"/>
<text x="365.80" y="360.11" font-size="6.8" text-anchor="end" font-weight="normal" fill="#222">0</text>
<line x1="367.4" y1="357.7" x2="422.7" y2="357.7" stroke="#111" stroke-width="1.1"/>
<rect x="374.20" y="347.52" width="9.30" height="10.18" fill="#c81d31"/>
<rect x="382.90" y="348.85" width="9.00" height="8.85" fill="#165288"/>
<rect x="403.50" y="305.49" width="9.20" height="52.21" fill="#c81d31"/>
<line x1="407.8" y1="305.485" x2="407.8" y2="304.59999999999997" stroke="#8a1020" stroke-width="0.9"/>
<line x1="405.3" y1="304.59999999999997" x2="410.3" y2="304.59999999999997" stroke="#8a1020" stroke-width="0.9"/>
<rect x="412.10" y="287.78" width="8.70" height="69.92" fill="#165288"/>
<line x1="416.45000000000005" y1="287.78499999999997" x2="416.45000000000005" y2="286.9" stroke="#0c3560" stroke-width="0.9"/>
<line x1="413.95000000000005" y1="286.9" x2="418.95000000000005" y2="286.9" stroke="#0c3560" stroke-width="0.9"/>
<polyline points="406.3,284.90000000000003 407.0,283.3 416.6,283.3 417.3,284.90000000000003" fill="none" stroke="#111" stroke-width="0.95"/>
<text x="411.80" y="282.90" font-size="7.4" text-anchor="middle" font-weight="normal" fill="#111">**</text>
<text x="383.05" y="368.30" font-size="7.9" text-anchor="middle" font-weight="normal" fill="#111">0 μM</text>
<text x="412.15" y="368.30" font-size="7.9" text-anchor="middle" font-weight="normal" fill="#111">0.1 μM</text>
<line x1="455.2" y1="284.8" x2="455.2" y2="358.2" stroke="#111" stroke-width="1.1"/>
<line x1="452.2" y1="284.8" x2="455.2" y2="284.8" stroke="#111" stroke-width="0.9"/>
<text x="450.60" y="287.21" font-size="6.8" text-anchor="end" font-weight="normal" fill="#222">40</text>
<line x1="452.2" y1="303.02500000000003" x2="455.2" y2="303.02500000000003" stroke="#111" stroke-width="0.9"/>
<text x="450.60" y="305.43" font-size="6.8" text-anchor="end" font-weight="normal" fill="#222">30</text>
<line x1="452.2" y1="321.25" x2="455.2" y2="321.25" stroke="#111" stroke-width="0.9"/>
<text x="450.60" y="323.66" font-size="6.8" text-anchor="end" font-weight="normal" fill="#222">20</text>
<line x1="452.2" y1="339.475" x2="455.2" y2="339.475" stroke="#111" stroke-width="0.9"/>
<text x="450.60" y="341.88" font-size="6.8" text-anchor="end" font-weight="normal" fill="#222">10</text>
<line x1="452.2" y1="357.7" x2="455.2" y2="357.7" stroke="#111" stroke-width="0.9"/>
<text x="450.60" y="360.11" font-size="6.8" text-anchor="end" font-weight="normal" fill="#222">0</text>
<polyline points="453.59999999999997,270.4 456.9,270.4 456.9,277.5 453.59999999999997,277.5" fill="none" stroke="#222" stroke-width="0.9"/>
<text x="450.60" y="272.81" font-size="6.8" text-anchor="end" font-weight="normal" fill="#222">100</text>
<text x="450.60" y="279.91" font-size="6.8" text-anchor="end" font-weight="normal" fill="#222">40</text>
<line x1="452.2" y1="357.7" x2="505.6" y2="357.7" stroke="#111" stroke-width="1.1"/>
<rect x="457.90" y="334.92" width="9.40" height="22.78" fill="#c81d31"/>
<line x1="462.3" y1="334.91875" x2="462.3" y2="333.09625" stroke="#8a1020" stroke-width="0.9"/>
<line x1="459.8" y1="333.09625" x2="464.8" y2="333.09625" stroke="#8a1020" stroke-width="0.9"/>
<rect x="466.70" y="337.65" width="9.10" height="20.05" fill="#165288"/>
<line x1="471.25" y1="337.6525" x2="471.25" y2="334.0075" stroke="#0c3560" stroke-width="0.9"/>
<line x1="468.75" y1="334.0075" x2="473.75" y2="334.0075" stroke="#0c3560" stroke-width="0.9"/>
<rect x="484.00" y="330.36" width="9.30" height="27.34" fill="#c81d31"/>
<line x1="488.34999999999997" y1="330.3625" x2="488.34999999999997" y2="327.62874999999997" stroke="#8a1020" stroke-width="0.9"/>
<line x1="485.84999999999997" y1="327.62874999999997" x2="490.84999999999997" y2="327.62874999999997" stroke="#8a1020" stroke-width="0.9"/>
<rect x="492.70" y="313.05" width="9.00" height="44.65" fill="#165288"/>
<line x1="497.2" y1="313.04875" x2="497.2" y2="307.58125" stroke="#0c3560" stroke-width="0.9"/>
<line x1="494.7" y1="307.58125" x2="499.7" y2="307.58125" stroke="#0c3560" stroke-width="0.9"/>
<polyline points="487.3,306.0 488.0,304.4 498.1,304.4 498.8,306.0" fill="none" stroke="#111" stroke-width="0.95"/>
<text x="493.05" y="304.00" font-size="7.4" text-anchor="middle" font-weight="normal" fill="#111">**</text>
<text x="466.80" y="368.30" font-size="7.9" text-anchor="middle" font-weight="normal" fill="#111">0 μM</text>
<text x="492.70" y="368.30" font-size="7.9" text-anchor="middle" font-weight="normal" fill="#111">0.1 μM</text>
<text x="280.80" y="368.30" font-size="8.3" text-anchor="end" font-weight="normal" fill="#1a1a1a" textLength="49.50" lengthAdjust="spacingAndGlyphs" dx="-0.00">Camptothecin</text>
<text x="266.20" y="92.30" font-size="9.8" text-anchor="middle" font-weight="normal" fill="#1a1a1a" transform="rotate(-90 266.20 92.30)" textLength="70.51" lengthAdjust="spacingAndGlyphs" dx="0.01">Annexin V + cells (%)</text>
<text x="266.20" y="199.50" font-size="9.8" text-anchor="middle" font-weight="normal" fill="#1a1a1a" transform="rotate(-90 266.20 199.50)" textLength="70.51" lengthAdjust="spacingAndGlyphs" dx="0.01">Annexin V + cells (%)</text>
<text x="266.20" y="312.60" font-size="9.8" text-anchor="middle" font-weight="normal" fill="#1a1a1a" transform="rotate(-90 266.20 312.60)" textLength="70.51" lengthAdjust="spacingAndGlyphs" dx="0.01">Annexin V + cells (%)</text>
<text x="7.30" y="184.20" font-size="11.6" text-anchor="start" font-weight="bold" fill="#000">C</text>
<text x="142.80" y="183.80" font-size="9.8" text-anchor="middle" font-weight="normal" fill="#1a1a1a" textLength="30.53" lengthAdjust="spacingAndGlyphs" dx="0.02">MD901</text>
<text x="55.00" y="198.80" font-size="9.8" text-anchor="middle" font-weight="normal" fill="#1a1a1a" textLength="29.98" lengthAdjust="spacingAndGlyphs" dx="-0.01">shRNA</text>
<text x="112.50" y="198.80" font-size="9.8" text-anchor="middle" font-weight="normal" fill="#1a1a1a" textLength="32.53" lengthAdjust="spacingAndGlyphs" dx="0.02">Control</text>
<text x="177.00" y="198.80" font-size="9.8" text-anchor="middle" font-weight="normal" fill="#1a1a1a" textLength="18.78" lengthAdjust="spacingAndGlyphs" dx="-0.01">RelB</text>
<line x1="79.5" y1="202.5" x2="140.8" y2="202.5" stroke="#333" stroke-width="1.0"/>
<line x1="145.8" y1="202.5" x2="207.5" y2="202.5" stroke="#333" stroke-width="1.0"/>
<text x="54.00" y="210.20" font-size="9.8" text-anchor="middle" font-weight="normal" fill="#1a1a1a" textLength="52.00" lengthAdjust="spacingAndGlyphs" dx="0.00">Doxorubicin</text>
<text x="54.40" y="220.60" font-size="9.8" text-anchor="middle" font-weight="normal" fill="#1a1a1a" textLength="18.66" lengthAdjust="spacingAndGlyphs" dx="-0.02">2μM</text>
<text x="91.30" y="215.00" font-size="8.2" text-anchor="middle" font-weight="normal" fill="#1a1a1a" textLength="8.52" lengthAdjust="spacingAndGlyphs" dx="0.01">0h</text>
<text x="112.50" y="215.00" font-size="8.2" text-anchor="middle" font-weight="normal" fill="#1a1a1a" textLength="8.52" lengthAdjust="spacingAndGlyphs" dx="0.01">6h</text>
<text x="133.30" y="215.00" font-size="8.2" text-anchor="middle" font-weight="normal" fill="#1a1a1a" textLength="8.52" lengthAdjust="spacingAndGlyphs" dx="0.01">8h</text>
<text x="156.30" y="215.00" font-size="8.2" text-anchor="middle" font-weight="normal" fill="#1a1a1a" textLength="8.52" lengthAdjust="spacingAndGlyphs" dx="0.01">0h</text>
<text x="177.50" y="215.00" font-size="8.2" text-anchor="middle" font-weight="normal" fill="#1a1a1a" textLength="8.52" lengthAdjust="spacingAndGlyphs" dx="0.01">6h</text>
<text x="197.50" y="215.00" font-size="8.2" text-anchor="middle" font-weight="normal" fill="#1a1a1a" textLength="8.52" lengthAdjust="spacingAndGlyphs" dx="0.01">8h</text>
<text x="73.80" y="230.50" font-size="9.8" text-anchor="end" font-weight="normal" fill="#1a1a1a" textLength="47.79" lengthAdjust="spacingAndGlyphs" dx="-0.01">IB: Cleaved</text>
<text x="73.80" y="239.60" font-size="9.8" text-anchor="end" font-weight="normal" fill="#1a1a1a" textLength="41.28" lengthAdjust="spacingAndGlyphs" dx="-0.02">caspase 3</text>
<text x="73.80" y="260.00" font-size="9.8" text-anchor="end" font-weight="normal" fill="#1a1a1a" textLength="46.77" lengthAdjust="spacingAndGlyphs" dx="-0.03">IB: GAPDH</text>
<rect x="79" y="219" width="128.5" height="22.4" fill="#e2e5e9"/>
<rect x="79" y="244.1" width="128.5" height="22.6" fill="#e2e5e9"/>
<rect x="104.50" y="225.70" width="15.00" height="3.00" rx="1.15" ry="1.15" fill="#111" opacity="0.1" filter="url(#b12)"/>
<rect x="126.00" y="225.20" width="18.00" height="3.80" rx="1.46" ry="1.46" fill="#111" opacity="0.42" filter="url(#b13)"/>
<rect x="127.50" y="233.10" width="15.00" height="2.60" rx="1.00" ry="1.00" fill="#111" opacity="0.1" filter="url(#b12)"/>
<rect x="167.50" y="225.30" width="18.00" height="3.60" rx="1.38" ry="1.38" fill="#111" opacity="0.33" filter="url(#b13)"/>
<rect x="169.00" y="233.20" width="15.00" height="2.40" rx="0.92" ry="0.92" fill="#111" opacity="0.08" filter="url(#b12)"/>
<rect x="188.55" y="225.30" width="18.50" height="5.00" rx="1.92" ry="1.92" fill="#111" opacity="1.0" filter="url(#b7)"/>
<rect x="189.80" y="226.30" width="16.00" height="3.00" rx="1.15" ry="1.15" fill="#111" opacity="1.0" filter="url(#b5)"/>
<rect x="189.05" y="233.10" width="17.50" height="4.20" rx="1.62" ry="1.62" fill="#111" opacity="1.0" filter="url(#b7)"/>
<rect x="190.30" y="234.00" width="15.00" height="2.40" rx="0.92" ry="0.92" fill="#111" opacity="1.0" filter="url(#b5)"/>
<rect x="81.20" y="251.80" width="21.40" height="7.20" rx="2.77" ry="2.77" fill="#111" opacity="1.0" filter="url(#b6)"/>
<rect x="102.60" y="251.90" width="21.60" height="7.00" rx="2.69" ry="2.69" fill="#111" opacity="1.0" filter="url(#b6)"/>
<rect x="124.20" y="251.90" width="21.80" height="7.00" rx="2.69" ry="2.69" fill="#111" opacity="1.0" filter="url(#b6)"/>
<rect x="146.50" y="252.60" width="19.30" height="5.60" rx="2.15" ry="2.15" fill="#111" opacity="1.0" filter="url(#b6)"/>
<rect x="166.60" y="251.80" width="22.40" height="7.20" rx="2.77" ry="2.77" fill="#111" opacity="1.0" filter="url(#b6)"/>
<rect x="189.60" y="252.70" width="17.40" height="5.40" rx="2.08" ry="2.08" fill="#111" opacity="1.0" filter="url(#b6)"/>
<rect x="82.00" y="253.65" width="124.00" height="3.50" rx="1.35" ry="1.35" fill="#111" opacity="1.0" filter="url(#b6)"/>
<text x="7.30" y="292.20" font-size="11.6" text-anchor="start" font-weight="bold" fill="#000">D</text>
<text x="142.30" y="290.60" font-size="9.8" text-anchor="middle" font-weight="normal" fill="#1a1a1a" textLength="30.53" lengthAdjust="spacingAndGlyphs" dx="0.02">MD901</text>
<text x="55.00" y="302.60" font-size="9.8" text-anchor="middle" font-weight="normal" fill="#1a1a1a" textLength="29.98" lengthAdjust="spacingAndGlyphs" dx="-0.01">shRNA</text>
<text x="114.60" y="303.80" font-size="9.8" text-anchor="middle" font-weight="normal" fill="#1a1a1a" textLength="32.53" lengthAdjust="spacingAndGlyphs" dx="0.02">Control</text>
<text x="175.60" y="303.80" font-size="9.8" text-anchor="middle" font-weight="normal" fill="#1a1a1a" textLength="18.78" lengthAdjust="spacingAndGlyphs" dx="-0.01">RelB</text>
<line x1="79.5" y1="307.7" x2="205.5" y2="307.7" stroke="#333" stroke-width="1.0"/>
<text x="52.00" y="312.60" font-size="9.8" text-anchor="middle" font-weight="normal" fill="#1a1a1a" textLength="52.50" lengthAdjust="spacingAndGlyphs" dx="0.00">Doxorubicin</text>
<text x="51.30" y="323.80" font-size="9.8" text-anchor="middle" font-weight="normal" fill="#1a1a1a" textLength="19.95" lengthAdjust="spacingAndGlyphs" dx="-0.02">2uM</text>
<text x="91.50" y="319.60" font-size="8.2" text-anchor="middle" font-weight="normal" fill="#1a1a1a" textLength="8.52" lengthAdjust="spacingAndGlyphs" dx="0.01">0h</text>
<text x="111.70" y="319.60" font-size="8.2" text-anchor="middle" font-weight="normal" fill="#1a1a1a" textLength="8.52" lengthAdjust="spacingAndGlyphs" dx="0.01">6h</text>
<text x="132.00" y="319.60" font-size="8.2" text-anchor="middle" font-weight="normal" fill="#1a1a1a" textLength="8.52" lengthAdjust="spacingAndGlyphs" dx="0.01">8h</text>
<text x="152.80" y="319.60" font-size="8.2" text-anchor="middle" font-weight="normal" fill="#1a1a1a" textLength="8.52" lengthAdjust="spacingAndGlyphs" dx="0.01">0h</text>
<text x="173.00" y="319.60" font-size="8.2" text-anchor="middle" font-weight="normal" fill="#1a1a1a" textLength="8.52" lengthAdjust="spacingAndGlyphs" dx="0.01">6h</text>
<text x="194.00" y="319.60" font-size="8.2" text-anchor="middle" font-weight="normal" fill="#1a1a1a" textLength="8.52" lengthAdjust="spacingAndGlyphs" dx="0.01">8h</text>
<text x="68.00" y="340.00" font-size="9.8" text-anchor="end" font-weight="normal" fill="#1a1a1a" textLength="45.96" lengthAdjust="spacingAndGlyphs" dx="-0.04">IB: γ-H2AX</text>
<text x="68.00" y="363.80" font-size="9.8" text-anchor="end" font-weight="normal" fill="#1a1a1a" textLength="42.21" lengthAdjust="spacingAndGlyphs" dx="0.01">IB: β-actin</text>
<rect x="79" y="324" width="128.5" height="22.9" fill="#e2e5e9"/>
<rect x="79" y="349.1" width="128.5" height="22.6" fill="#e2e5e9"/>
<rect x="103.20" y="333.25" width="15.00" height="3.50" rx="1.35" ry="1.35" fill="#111" opacity="0.15" filter="url(#b13)"/>
<rect x="123.55" y="332.00" width="17.50" height="5.60" rx="2.15" ry="2.15" fill="#111" opacity="0.85" filter="url(#b10)"/>
<rect x="146.30" y="333.50" width="15.00" height="3.00" rx="1.15" ry="1.15" fill="#111" opacity="0.06" filter="url(#b13)"/>
<rect x="165.25" y="332.50" width="17.50" height="4.60" rx="1.77" ry="1.77" fill="#111" opacity="0.62" filter="url(#b10)"/>
<rect x="185.40" y="330.95" width="21.00" height="8.50" rx="3.27" ry="3.27" fill="#111" opacity="1.0" filter="url(#b10)"/>
<rect x="79.30" y="358.45" width="19.90" height="4.90" rx="1.88" ry="1.88" fill="#111" opacity="0.97" filter="url(#b7)"/>
<rect x="100.90" y="358.45" width="20.40" height="4.90" rx="1.88" ry="1.88" fill="#111" opacity="0.97" filter="url(#b7)"/>
<rect x="123.00" y="358.45" width="18.50" height="4.90" rx="1.88" ry="1.88" fill="#111" opacity="0.97" filter="url(#b7)"/>
<rect x="143.20" y="358.45" width="19.80" height="4.90" rx="1.88" ry="1.88" fill="#111" opacity="0.97" filter="url(#b7)"/>
<rect x="164.70" y="358.45" width="18.50" height="4.90" rx="1.88" ry="1.88" fill="#111" opacity="0.97" filter="url(#b7)"/>
<rect x="185.40" y="358.45" width="19.30" height="4.90" rx="1.88" ry="1.88" fill="#111" opacity="0.97" filter="url(#b7)"/>
<text x="7.30" y="408.20" font-size="11.6" text-anchor="start" font-weight="bold" fill="#000">E</text>
<rect x="74.5" y="397" width="8" height="3.6" fill="#c81d31"/>
<rect x="74.5" y="406.9" width="8" height="3.6" fill="#165288"/>
<text x="85.00" y="401.40" font-size="7.6" text-anchor="start" font-weight="normal" fill="#1a1a1a" textLength="49.53" lengthAdjust="spacingAndGlyphs" dx="0.00">shRNA Control</text>
<text x="85.00" y="411.00" font-size="7.6" text-anchor="start" font-weight="normal" fill="#1a1a1a" textLength="38.48" lengthAdjust="spacingAndGlyphs" dx="0.00">shRNA RelB</text>
<line x1="51.4" y1="417.7" x2="51.4" y2="519.9499999999999" stroke="#111" stroke-width="1.15"/>
<line x1="48.199999999999996" y1="519.4" x2="51.4" y2="519.4" stroke="#111" stroke-width="0.95"/>
<text x="46.00" y="522.23" font-size="8" text-anchor="end" font-weight="normal" fill="#222">0</text>
<line x1="48.199999999999996" y1="499.06" x2="51.4" y2="499.06" stroke="#111" stroke-width="0.95"/>
<text x="46.00" y="501.89" font-size="8" text-anchor="end" font-weight="normal" fill="#222">5</text>
<line x1="48.199999999999996" y1="478.71999999999997" x2="51.4" y2="478.71999999999997" stroke="#111" stroke-width="0.95"/>
<text x="46.00" y="481.55" font-size="8" text-anchor="end" font-weight="normal" fill="#222">10</text>
<line x1="48.199999999999996" y1="458.38" x2="51.4" y2="458.38" stroke="#111" stroke-width="0.95"/>
<text x="46.00" y="461.21" font-size="8" text-anchor="end" font-weight="normal" fill="#222">15</text>
<line x1="48.199999999999996" y1="438.03999999999996" x2="51.4" y2="438.03999999999996" stroke="#111" stroke-width="0.95"/>
<text x="46.00" y="440.87" font-size="8" text-anchor="end" font-weight="normal" fill="#222">20</text>
<line x1="48.199999999999996" y1="417.7" x2="51.4" y2="417.7" stroke="#111" stroke-width="0.95"/>
<text x="46.00" y="420.53" font-size="8" text-anchor="end" font-weight="normal" fill="#222">25</text>
<line x1="48.199999999999996" y1="519.4" x2="101.2" y2="519.4" stroke="#111" stroke-width="1.15"/>
<rect x="55.00" y="513.70" width="10.60" height="5.70" fill="#c81d31"/>
<rect x="65.00" y="512.89" width="10.00" height="6.51" fill="#165288"/>
<rect x="80.00" y="492.96" width="10.60" height="26.44" fill="#c81d31"/>
<rect x="90.00" y="423.80" width="10.75" height="95.60" fill="#165288"/>
<text x="65.00" y="528.50" font-size="7.6" text-anchor="middle" font-weight="normal" fill="#1a1a1a">0 μM</text>
<text x="91.30" y="528.50" font-size="7.6" text-anchor="middle" font-weight="normal" fill="#1a1a1a">2 μM</text>
<text x="49.70" y="528.50" font-size="7.8" text-anchor="end" font-weight="normal" fill="#1a1a1a" textLength="42.00" lengthAdjust="spacingAndGlyphs" dx="0.00">Doxorubicin</text>
<text x="30.60" y="471.30" font-size="9.2" text-anchor="middle" font-weight="normal" fill="#1a1a1a" transform="rotate(-90 30.60 471.30)" textLength="79.72" lengthAdjust="spacingAndGlyphs" dx="0.01">γ-H2AX foci + cells (%)</text>
<line x1="145.4" y1="418.4" x2="145.4" y2="519.9499999999999" stroke="#111" stroke-width="1.15"/>
<line x1="142.20000000000002" y1="519.4" x2="145.4" y2="519.4" stroke="#111" stroke-width="0.95"/>
<text x="140.00" y="522.23" font-size="8" text-anchor="end" font-weight="normal" fill="#222">0</text>
<line x1="142.20000000000002" y1="494.15" x2="145.4" y2="494.15" stroke="#111" stroke-width="0.95"/>
<text x="140.00" y="496.98" font-size="8" text-anchor="end" font-weight="normal" fill="#222">1</text>
<line x1="142.20000000000002" y1="468.9" x2="145.4" y2="468.9" stroke="#111" stroke-width="0.95"/>
<text x="140.00" y="471.73" font-size="8" text-anchor="end" font-weight="normal" fill="#222">2</text>
<line x1="142.20000000000002" y1="443.65" x2="145.4" y2="443.65" stroke="#111" stroke-width="0.95"/>
<text x="140.00" y="446.48" font-size="8" text-anchor="end" font-weight="normal" fill="#222">3</text>
<line x1="142.20000000000002" y1="418.4" x2="145.4" y2="418.4" stroke="#111" stroke-width="0.95"/>
<text x="140.00" y="421.23" font-size="8" text-anchor="end" font-weight="normal" fill="#222">4</text>
<line x1="142.20000000000002" y1="519.4" x2="174.4" y2="519.4" stroke="#111" stroke-width="1.15"/>
<rect x="150.00" y="494.91" width="12.20" height="24.49" fill="#c81d31"/>
<line x1="155.8" y1="494.90749999999997" x2="155.8" y2="494.15" stroke="#8a1020" stroke-width="0.9"/>
<line x1="153.20000000000002" y1="494.15" x2="158.4" y2="494.15" stroke="#8a1020" stroke-width="0.9"/>
<rect x="161.60" y="434.05" width="12.00" height="85.35" fill="#165288"/>
<text x="164.00" y="528.30" font-size="7.6" text-anchor="middle" font-weight="normal" fill="#1a1a1a">2 μM</text>
<text x="130.30" y="468.70" font-size="9.2" text-anchor="middle" font-weight="normal" fill="#1a1a1a" transform="rotate(-90 130.30 468.70)" textLength="106.97" lengthAdjust="spacingAndGlyphs" dx="-0.02">Increase γ-H2AX foci count mean</text>
<text x="195.00" y="408.20" font-size="11.6" text-anchor="start" font-weight="bold" fill="#000">F</text>
<line x1="221" y1="418" x2="221" y2="520.4499999999999" stroke="#111" stroke-width="1.15"/>
<line x1="217.8" y1="519.9" x2="221" y2="519.9" stroke="#111" stroke-width="0.95"/>
<text x="215.60" y="522.70" font-size="7.9" text-anchor="end" font-weight="normal" fill="#222">0</text>
<line x1="217.8" y1="485.93333333333334" x2="221" y2="485.93333333333334" stroke="#111" stroke-width="0.95"/>
<text x="215.60" y="488.73" font-size="7.9" text-anchor="end" font-weight="normal" fill="#222">0.5</text>
<line x1="217.8" y1="451.96666666666664" x2="221" y2="451.96666666666664" stroke="#111" stroke-width="0.95"/>
<text x="215.60" y="454.76" font-size="7.9" text-anchor="end" font-weight="normal" fill="#222">1</text>
<line x1="217.8" y1="418.0" x2="221" y2="418.0" stroke="#111" stroke-width="0.95"/>
<text x="215.60" y="420.80" font-size="7.9" text-anchor="end" font-weight="normal" fill="#222">1.5</text>
<line x1="217.8" y1="519.9" x2="326.3" y2="519.9" stroke="#111" stroke-width="1.15"/>
<rect x="225.40" y="452.65" width="13.00" height="67.25" fill="#c81d31"/>
<rect x="237.80" y="502.24" width="13.00" height="17.66" fill="#165288"/>
<line x1="244.3" y1="502.2373333333333" x2="244.3" y2="496.12333333333333" stroke="#0c3560" stroke-width="0.9"/>
<line x1="241.70000000000002" y1="496.12333333333333" x2="246.9" y2="496.12333333333333" stroke="#0c3560" stroke-width="0.9"/>
<rect x="261.40" y="451.97" width="13.00" height="67.93" fill="#c81d31"/>
<rect x="273.80" y="504.95" width="12.70" height="14.95" fill="#165288"/>
<line x1="280.15" y1="504.95466666666664" x2="280.15" y2="502.2373333333333" stroke="#0c3560" stroke-width="0.9"/>
<line x1="277.54999999999995" y1="502.2373333333333" x2="282.75" y2="502.2373333333333" stroke="#0c3560" stroke-width="0.9"/>
<rect x="296.60" y="452.65" width="13.00" height="67.25" fill="#c81d31"/>
<rect x="309.00" y="484.57" width="12.40" height="35.33" fill="#165288"/>
<line x1="315.2" y1="484.57466666666664" x2="315.2" y2="479.8193333333333" stroke="#0c3560" stroke-width="0.9"/>
<line x1="312.59999999999997" y1="479.8193333333333" x2="317.8" y2="479.8193333333333" stroke="#0c3560" stroke-width="0.9"/>
<rect x="249.9" y="416.6" width="9.5" height="3.8" fill="#c81d31"/>
<rect x="249.9" y="424.7" width="9.5" height="3.8" fill="#165288"/>
<text x="260.80" y="420.60" font-size="7.6" text-anchor="start" font-weight="normal" fill="#1a1a1a" textLength="50.53" lengthAdjust="spacingAndGlyphs" dx="0.00">shRNA Control</text>
<text x="260.80" y="428.70" font-size="7.6" text-anchor="start" font-weight="normal" fill="#1a1a1a" textLength="39.48" lengthAdjust="spacingAndGlyphs" dx="0.00">shRNA RelB</text>
<polyline points="231.7,450.4 232.39999999999998,448.4 245.4,448.4 246.1,450.4" fill="none" stroke="#111" stroke-width="0.95"/>
<text x="238.90" y="447.60" font-size="7.2" text-anchor="middle" font-weight="normal" fill="#111">****</text>
<polyline points="267.8,450.4 268.5,448.4 280.90000000000003,448.4 281.6,450.4" fill="none" stroke="#111" stroke-width="0.95"/>
<text x="274.70" y="447.60" font-size="7.2" text-anchor="middle" font-weight="normal" fill="#111">****</text>
<polyline points="303.3,450.4 304.0,448.4 316.1,448.4 316.8,450.4" fill="none" stroke="#111" stroke-width="0.95"/>
<text x="310.05" y="447.60" font-size="7.2" text-anchor="middle" font-weight="normal" fill="#111">***</text>
<text x="236.90" y="529.40" font-size="7.8" text-anchor="middle" font-weight="normal" fill="#1a1a1a" textLength="25.53" lengthAdjust="spacingAndGlyphs" dx="0.01">MD901</text>
<text x="273.80" y="529.40" font-size="7.8" text-anchor="middle" font-weight="normal" fill="#1a1a1a" textLength="17.96" lengthAdjust="spacingAndGlyphs" dx="-0.02">K231</text>
<text x="309.00" y="529.40" font-size="7.8" text-anchor="middle" font-weight="normal" fill="#1a1a1a" textLength="28.47" lengthAdjust="spacingAndGlyphs" dx="-0.02">OCI-Ly8</text>
<text x="200.80" y="468.00" font-size="9.2" text-anchor="middle" font-weight="normal" fill="#1a1a1a" transform="rotate(-90 200.80 468.00)" textLength="97.98" lengthAdjust="spacingAndGlyphs" dx="-0.01">cIAP2 relative expression level</text>
<text x="341.40" y="407.60" font-size="11.6" text-anchor="start" font-weight="bold" fill="#000">G</text>
<text x="395.00" y="415.30" font-size="10.2" text-anchor="middle" font-weight="normal" fill="#1a1a1a" textLength="30.93" lengthAdjust="spacingAndGlyphs" dx="0.02">MD901</text>
<text x="441.70" y="415.30" font-size="10.2" text-anchor="middle" font-weight="normal" fill="#1a1a1a" textLength="21.36" lengthAdjust="spacingAndGlyphs" dx="-0.02">K231</text>
<text x="491.50" y="415.30" font-size="10.2" text-anchor="middle" font-weight="normal" fill="#1a1a1a" textLength="38.96" lengthAdjust="spacingAndGlyphs" dx="-0.02">OCI-Ly8</text>
<line x1="372.4" y1="420" x2="417.5" y2="420" stroke="#444" stroke-width="1.1"/>
<line x1="419.3" y1="420" x2="464.8" y2="420" stroke="#444" stroke-width="1.1"/>
<line x1="467.3" y1="420" x2="512.7" y2="420" stroke="#444" stroke-width="1.1"/>
<text x="343.90" y="443.00" font-size="9.8" text-anchor="start" font-weight="normal" fill="#1a1a1a" textLength="29.48" lengthAdjust="spacingAndGlyphs" dx="0.00">shRNA</text>
<text x="382.60" y="454.50" font-size="8.4" text-anchor="start" font-weight="normal" fill="#1a1a1a" transform="rotate(-53 382.60 454.50)">Control</text>
<text x="404.50" y="454.00" font-size="8.2" text-anchor="start" font-weight="normal" fill="#1a1a1a" transform="rotate(-53 404.50 454.00)">RelB</text>
<text x="428.20" y="454.50" font-size="8.4" text-anchor="start" font-weight="normal" fill="#1a1a1a" transform="rotate(-53 428.20 454.50)">Control</text>
<text x="450.10" y="454.00" font-size="8.2" text-anchor="start" font-weight="normal" fill="#1a1a1a" transform="rotate(-53 450.10 454.00)">RelB</text>
<text x="473.90" y="454.50" font-size="8.4" text-anchor="start" font-weight="normal" fill="#1a1a1a" transform="rotate(-53 473.90 454.50)">Control</text>
<text x="495.80" y="454.00" font-size="8.2" text-anchor="start" font-weight="normal" fill="#1a1a1a" transform="rotate(-53 495.80 454.00)">RelB</text>
<text x="373.40" y="472.40" font-size="9.6" text-anchor="end" font-weight="normal" fill="#1a1a1a" textLength="36.99" lengthAdjust="spacingAndGlyphs" dx="-0.01">IB: cIAP2</text>
<text x="373.90" y="496.80" font-size="9.6" text-anchor="end" font-weight="normal" fill="#1a1a1a" textLength="41.71" lengthAdjust="spacingAndGlyphs" dx="0.01">IB: β-actin</text>
<rect x="376.2" y="458.1" width="43.400000000000034" height="23" fill="#e2e5e9"/>
<rect x="376.2" y="483" width="43.400000000000034" height="22.2" fill="#e2e5e9"/>
<rect x="421.8" y="458.1" width="44.39999999999998" height="23" fill="#e2e5e9"/>
<rect x="421.8" y="483" width="44.39999999999998" height="22.2" fill="#e2e5e9"/>
<linearGradient id="gOCI" x1="0" y1="0" x2="0" y2="1"><stop offset="0" stop-color="#c4c8cc"/><stop offset="0.5" stop-color="#bfc3c7"/><stop offset="1" stop-color="#aeb3b7"/></linearGradient>
<rect x="467.8" y="458.3" width="44" height="22.8" fill="url(#gOCI)"/>
<rect x="488.5" y="458.3" width="23.3" height="22.8" fill="#fff" opacity="0.18"/>
<rect x="469.00" y="474.50" width="18.00" height="6.00" rx="2.31" ry="2.31" fill="#111" opacity="0.35" filter="url(#b20)"/>
<rect x="490.00" y="474.50" width="20.00" height="5.00" rx="1.92" ry="1.92" fill="#111" opacity="0.12" filter="url(#b20)"/>
<rect x="469.00" y="459.50" width="18.00" height="4.00" rx="1.54" ry="1.54" fill="#111" opacity="0.12" filter="url(#b20)"/>
<rect x="467.8" y="483.2" width="44" height="22.6" fill="#dadde0"/>
<rect x="378.70" y="468.10" width="19.80" height="5.00" rx="1.92" ry="1.92" fill="#111" opacity="1.0" filter="url(#b6)"/>
<rect x="401.90" y="469.60" width="16.60" height="3.20" rx="1.23" ry="1.23" fill="#111" opacity="0.3" filter="url(#b10)"/>
<rect x="423.80" y="468.10" width="19.00" height="5.00" rx="1.92" ry="1.92" fill="#111" opacity="1.0" filter="url(#b6)"/>
<rect x="445.40" y="469.70" width="18.00" height="3.00" rx="1.15" ry="1.15" fill="#111" opacity="0.2" filter="url(#b10)"/>
<rect x="469.75" y="467.40" width="15.50" height="4.80" rx="1.85" ry="1.85" fill="#111" opacity="1.0" filter="url(#b8)"/>
<rect x="470.50" y="467.30" width="7.00" height="5.40" rx="2.08" ry="2.08" fill="#111" opacity="0.9" filter="url(#b8)"/>
<rect x="489.00" y="467.90" width="19.40" height="3.40" rx="1.31" ry="1.31" fill="#111" opacity="0.3" filter="url(#b10)"/>
<rect x="503.20" y="467.20" width="5.20" height="4.80" rx="1.85" ry="1.85" fill="#111" opacity="0.9" filter="url(#b8)"/>
<rect x="378.35" y="491.30" width="20.50" height="4.40" rx="1.69" ry="1.69" fill="#111" opacity="0.97" filter="url(#b6)"/>
<rect x="400.95" y="491.30" width="18.50" height="4.40" rx="1.69" ry="1.69" fill="#111" opacity="0.97" filter="url(#b6)"/>
<rect x="422.75" y="491.30" width="19.50" height="4.40" rx="1.69" ry="1.69" fill="#111" opacity="0.97" filter="url(#b6)"/>
<rect x="445.15" y="491.30" width="18.50" height="4.40" rx="1.69" ry="1.69" fill="#111" opacity="0.97" filter="url(#b6)"/>
<rect x="468.25" y="490.50" width="43.50" height="4.80" rx="1.85" ry="1.85" fill="#111" opacity="1.0" filter="url(#b6)"/>
<rect x="470.00" y="487.80" width="40.00" height="1.60" rx="0.62" ry="0.62" fill="#111" opacity="0.15" filter="url(#b8)"/>
<rect x="470.00" y="498.20" width="40.00" height="1.20" rx="0.46" ry="0.46" fill="#111" opacity="0.1" filter="url(#b8)"/>
<rect x="470.00" y="502.90" width="40.00" height="1.20" rx="0.46" ry="0.46" fill="#111" opacity="0.08" filter="url(#b8)"/>
<text x="7.30" y="568.00" font-size="11.6" text-anchor="start" font-weight="bold" fill="#000">H</text>
<text x="156.20" y="567.50" font-size="8.9" text-anchor="middle" font-weight="normal" fill="#1a1a1a" textLength="76.00" lengthAdjust="spacingAndGlyphs" dx="-0.00">RelB EMSA status</text>
<text x="156.70" y="578.70" font-size="8.9" text-anchor="middle" font-weight="normal" fill="#1a1a1a" textLength="147.55" lengthAdjust="spacingAndGlyphs" dx="-0.02">(DLBCL patients, R-CHOP treated)</text>
<text x="105.80" y="596.20" font-size="9.2" text-anchor="middle" font-weight="normal" fill="#1a1a1a" textLength="38.37" lengthAdjust="spacingAndGlyphs" dx="-0.02">Negative</text>
<text x="203.10" y="596.20" font-size="9.2" text-anchor="middle" font-weight="normal" fill="#1a1a1a" textLength="32.81" lengthAdjust="spacingAndGlyphs" dx="0.01">Positive</text>
<line x1="62.1" y1="599.9" x2="145.6" y2="599.9" stroke="#444" stroke-width="1.1"/>
<line x1="149.4" y1="599.9" x2="254.5" y2="599.9" stroke="#444" stroke-width="1.1"/>
<text x="69.00" y="620.00" font-size="7.6" text-anchor="start" font-weight="normal" fill="#1a1a1a" transform="rotate(-53 69.00 620.00)">#52</text>
<text x="86.20" y="620.00" font-size="7.6" text-anchor="start" font-weight="normal" fill="#1a1a1a" transform="rotate(-53 86.20 620.00)">#21</text>
<text x="104.90" y="620.00" font-size="7.6" text-anchor="start" font-weight="normal" fill="#1a1a1a" transform="rotate(-53 104.90 620.00)">#10</text>
<text x="121.50" y="620.00" font-size="7.6" text-anchor="start" font-weight="normal" fill="#1a1a1a" transform="rotate(-53 121.50 620.00)">#36</text>
<text x="137.70" y="620.00" font-size="7.6" text-anchor="start" font-weight="normal" fill="#1a1a1a" transform="rotate(-53 137.70 620.00)">#50</text>
<text x="153.80" y="620.00" font-size="7.6" text-anchor="start" font-weight="normal" fill="#1a1a1a" transform="rotate(-53 153.80 620.00)">#5</text>
<text x="170.10" y="620.00" font-size="7.6" text-anchor="start" font-weight="normal" fill="#1a1a1a" transform="rotate(-53 170.10 620.00)">#17</text>
<text x="185.90" y="620.00" font-size="7.6" text-anchor="start" font-weight="normal" fill="#1a1a1a" transform="rotate(-53 185.90 620.00)">#14</text>
<text x="201.90" y="620.00" font-size="7.6" text-anchor="start" font-weight="normal" fill="#1a1a1a" transform="rotate(-53 201.90 620.00)">#15</text>
<text x="217.90" y="620.00" font-size="7.6" text-anchor="start" font-weight="normal" fill="#1a1a1a" transform="rotate(-53 217.90 620.00)">#20</text>
<text x="233.90" y="620.00" font-size="7.6" text-anchor="start" font-weight="normal" fill="#1a1a1a" transform="rotate(-53 233.90 620.00)">#66</text>
<text x="248.90" y="620.00" font-size="7.6" text-anchor="start" font-weight="normal" fill="#1a1a1a" transform="rotate(-53 248.90 620.00)">#3</text>
<text x="55.30" y="639.40" font-size="9.4" text-anchor="end" font-weight="normal" fill="#1a1a1a" textLength="31.79" lengthAdjust="spacingAndGlyphs" dx="-0.01">IB: cIAP2</text>
<text x="55.30" y="661.40" font-size="9.4" text-anchor="end" font-weight="normal" fill="#1a1a1a" textLength="39.27" lengthAdjust="spacingAndGlyphs" dx="-0.03">IB: GAPDH</text>
<rect x="59.4" y="623.5" width="195.5" height="22.7" fill="#e2e5e9"/>
<rect x="59.4" y="648.3" width="195.5" height="21.8" fill="#e2e5e9"/>
<rect x="148.3" y="623.5" width="1" height="22.7" fill="#aaa" opacity="0.5"/>
<rect x="81.40" y="632.70" width="12.00" height="3.00" rx="1.15" ry="1.15" fill="#111" opacity="0.1" filter="url(#b12)"/>
<rect x="98.50" y="630.80" width="14.00" height="4.00" rx="1.54" ry="1.54" fill="#111" opacity="0.35" filter="url(#b10)"/>
<rect x="116.70" y="632.70" width="9.00" height="3.00" rx="1.15" ry="1.15" fill="#111" opacity="0.1" filter="url(#b12)"/>
<rect x="130.80" y="632.75" width="13.00" height="3.50" rx="1.35" ry="1.35" fill="#111" opacity="0.2" filter="url(#b10)"/>
<rect x="164.75" y="631.60" width="11.50" height="4.40" rx="1.69" ry="1.69" fill="#111" opacity="0.68" filter="url(#b9)"/>
<rect x="195.80" y="632.50" width="9.00" height="3.00" rx="1.15" ry="1.15" fill="#111" opacity="0.07" filter="url(#b12)"/>
<rect x="229.05" y="632.50" width="6.70" height="3.00" rx="1.15" ry="1.15" fill="#111" opacity="0.06" filter="url(#b12)"/>
<rect x="62.95" y="632.86" width="12.50" height="5.28" rx="2.03" ry="2.03" fill="#111" opacity="1.0" filter="url(#b8)"/>
<rect x="63.26" y="632.20" width="6.88" height="6.60" rx="2.54" ry="2.54" fill="#111" opacity="1.0" filter="url(#b8)"/>
<rect x="68.26" y="632.20" width="6.88" height="6.60" rx="2.54" ry="2.54" fill="#111" opacity="1.0" filter="url(#b8)"/>
<rect x="148.20" y="631.32" width="12.80" height="4.96" rx="1.91" ry="1.91" fill="#111" opacity="1.0" filter="url(#b8)"/>
<rect x="148.52" y="630.70" width="7.04" height="6.20" rx="2.38" ry="2.38" fill="#111" opacity="1.0" filter="url(#b8)"/>
<rect x="153.64" y="630.70" width="7.04" height="6.20" rx="2.38" ry="2.38" fill="#111" opacity="1.0" filter="url(#b8)"/>
<rect x="180.30" y="631.56" width="11.20" height="4.48" rx="1.72" ry="1.72" fill="#111" opacity="0.92" filter="url(#b8)"/>
<rect x="180.58" y="631.00" width="6.16" height="5.60" rx="2.15" ry="2.15" fill="#111" opacity="0.92" filter="url(#b8)"/>
<rect x="185.06" y="631.00" width="6.16" height="5.60" rx="2.15" ry="2.15" fill="#111" opacity="0.92" filter="url(#b8)"/>
<rect x="210.25" y="631.24" width="13.30" height="5.12" rx="1.97" ry="1.97" fill="#111" opacity="1.0" filter="url(#b8)"/>
<rect x="210.58" y="630.60" width="7.32" height="6.40" rx="2.46" ry="2.46" fill="#111" opacity="1.0" filter="url(#b8)"/>
<rect x="215.90" y="630.60" width="7.32" height="6.40" rx="2.46" ry="2.46" fill="#111" opacity="1.0" filter="url(#b8)"/>
<rect x="240.50" y="631.32" width="14.00" height="4.96" rx="1.91" ry="1.91" fill="#111" opacity="1.0" filter="url(#b8)"/>
<rect x="240.85" y="630.70" width="7.70" height="6.20" rx="2.38" ry="2.38" fill="#111" opacity="1.0" filter="url(#b8)"/>
<rect x="246.45" y="630.70" width="7.70" height="6.20" rx="2.38" ry="2.38" fill="#111" opacity="1.0" filter="url(#b8)"/>
<rect x="60.00" y="655.70" width="14.20" height="3.80" rx="1.46" ry="1.46" fill="#111" opacity="0.85" filter="url(#b6)"/>
<rect x="78.80" y="657.40" width="15.60" height="4.00" rx="1.54" ry="1.54" fill="#111" opacity="0.95" filter="url(#b6)"/>
<rect x="97.40" y="657.40" width="16.20" height="4.80" rx="1.85" ry="1.85" fill="#111" opacity="1.0" filter="url(#b6)"/>
<rect x="117.25" y="660.10" width="9.50" height="3.40" rx="1.31" ry="1.31" fill="#111" opacity="0.95" filter="url(#b6)"/>
<rect x="131.70" y="657.40" width="15.20" height="4.00" rx="1.54" ry="1.54" fill="#111" opacity="0.95" filter="url(#b6)"/>
<rect x="150.45" y="658.80" width="13.30" height="4.00" rx="1.54" ry="1.54" fill="#111" opacity="0.95" filter="url(#b6)"/>
<rect x="166.05" y="659.00" width="13.90" height="3.60" rx="1.38" ry="1.38" fill="#111" opacity="0.95" filter="url(#b6)"/>
<rect x="183.65" y="659.00" width="11.70" height="3.20" rx="1.23" ry="1.23" fill="#111" opacity="0.8" filter="url(#b6)"/>
<rect x="197.55" y="659.10" width="13.70" height="3.00" rx="1.15" ry="1.15" fill="#111" opacity="0.6" filter="url(#b6)"/>
<rect x="212.40" y="659.00" width="12.60" height="3.20" rx="1.23" ry="1.23" fill="#111" opacity="0.8" filter="url(#b6)"/>
<rect x="228.55" y="659.50" width="9.30" height="3.00" rx="1.15" ry="1.15" fill="#111" opacity="0.6" filter="url(#b6)"/>
<rect x="241.90" y="659.50" width="12.60" height="3.00" rx="1.15" ry="1.15" fill="#111" opacity="0.65" filter="url(#b6)"/>
<line x1="350.8" y1="560.8" x2="350.8" y2="671.7" stroke="#111" stroke-width="1.1"/>
<line x1="348.40000000000003" y1="671.2" x2="350.8" y2="671.2" stroke="#111" stroke-width="0.95"/>
<text x="347.20" y="674.00" font-size="7.8" text-anchor="end" font-weight="normal" fill="#222" textLength="12.00" lengthAdjust="spacingAndGlyphs" dx="0.00">0.0</text>
<line x1="348.40000000000003" y1="643.6" x2="350.8" y2="643.6" stroke="#111" stroke-width="0.95"/>
<text x="347.20" y="646.40" font-size="7.8" text-anchor="end" font-weight="normal" fill="#222" textLength="12.00" lengthAdjust="spacingAndGlyphs" dx="0.00">0.5</text>
<line x1="348.40000000000003" y1="616.0" x2="350.8" y2="616.0" stroke="#111" stroke-width="0.95"/>
<text x="347.20" y="618.80" font-size="7.8" text-anchor="end" font-weight="normal" fill="#222" textLength="12.00" lengthAdjust="spacingAndGlyphs" dx="0.00">1.0</text>
<line x1="348.40000000000003" y1="588.4" x2="350.8" y2="588.4" stroke="#111" stroke-width="0.95"/>
<text x="347.20" y="591.20" font-size="7.8" text-anchor="end" font-weight="normal" fill="#222" textLength="12.00" lengthAdjust="spacingAndGlyphs" dx="0.00">1.5</text>
<line x1="348.40000000000003" y1="560.8" x2="350.8" y2="560.8" stroke="#111" stroke-width="0.95"/>
<text x="347.20" y="563.60" font-size="7.8" text-anchor="end" font-weight="normal" fill="#222" textLength="12.00" lengthAdjust="spacingAndGlyphs" dx="0.00">2.0</text>
<line x1="350.8" y1="671.2" x2="424.9" y2="671.2" stroke="#111" stroke-width="1.1"/>
<line x1="370.8" y1="671.2" x2="370.8" y2="673.8" stroke="#222" stroke-width="0.8"/>
<line x1="408.2" y1="671.2" x2="408.2" y2="673.8" stroke="#222" stroke-width="0.8"/>
<polyline points="370.6,581.2 370.6,577.8 408.8,577.8 408.8,581.2" fill="none" stroke="#222" stroke-width="0.8"/>
<text x="389.70" y="576.20" font-size="7.6" text-anchor="middle" font-weight="normal" fill="#111">**</text>
<text x="371.20" y="682.00" font-size="7.8" text-anchor="middle" font-weight="normal" fill="#1a1a1a" textLength="32.27" lengthAdjust="spacingAndGlyphs" dx="-0.01">Negative</text>
<text x="370.80" y="690.80" font-size="7.8" text-anchor="middle" font-weight="normal" fill="#1a1a1a" textLength="19.22" lengthAdjust="spacingAndGlyphs" dx="0.01">n = 8</text>
<text x="408.60" y="682.00" font-size="7.8" text-anchor="middle" font-weight="normal" fill="#1a1a1a" textLength="27.51" lengthAdjust="spacingAndGlyphs" dx="0.01">Positive</text>
<text x="408.80" y="690.80" font-size="7.8" text-anchor="middle" font-weight="normal" fill="#1a1a1a" textLength="23.08" lengthAdjust="spacingAndGlyphs" dx="-0.01">n = 16</text>
<text x="344.60" y="686.20" font-size="7.8" text-anchor="end" font-weight="normal" fill="#1a1a1a" textLength="62.30" lengthAdjust="spacingAndGlyphs" dx="-0.00">RelB EMSA status</text>
<text x="325.60" y="615.80" font-size="9.0" text-anchor="middle" font-weight="normal" fill="#1a1a1a" transform="rotate(-90 325.60 615.80)" textLength="122.31" lengthAdjust="spacingAndGlyphs" dx="0.00">Normalized cIAP2 protein expression</text>
<line x1="361.2" y1="642" x2="381.8" y2="642" stroke="#1b4f86" stroke-width="1.0"/>
<line x1="366.6" y1="624.2" x2="376.9" y2="624.2" stroke="#1b4f86" stroke-width="1.0"/>
<line x1="366.6" y1="659.7" x2="376.9" y2="659.7" stroke="#1b4f86" stroke-width="1.0"/>
<line x1="371.7" y1="624.2" x2="371.7" y2="659.7" stroke="#1b4f86" stroke-width="1.0"/>
<circle cx="368.2" cy="613.4" r="1.6" fill="#1b4f86"/>
<circle cx="375.1" cy="616.5" r="1.6" fill="#1b4f86"/>
<circle cx="374.9" cy="642.8" r="1.6" fill="#1b4f86"/>
<circle cx="364.6" cy="648.8" r="1.6" fill="#1b4f86"/>
<circle cx="368.2" cy="647.5" r="1.6" fill="#1b4f86"/>
<circle cx="371.5" cy="650" r="1.6" fill="#1b4f86"/>
<circle cx="378.5" cy="653.4" r="1.6" fill="#1b4f86"/>
<circle cx="371.5" cy="663.1" r="1.6" fill="#1b4f86"/>
<line x1="396.9" y1="613.4" x2="418" y2="613.4" stroke="#c8102e" stroke-width="1.0"/>
<line x1="403" y1="601.1" x2="413" y2="601.1" stroke="#c8102e" stroke-width="1.0"/>
<line x1="403" y1="625.8" x2="413" y2="625.8" stroke="#c8102e" stroke-width="1.0"/>
<line x1="408.2" y1="601.1" x2="408.2" y2="625.8" stroke="#c8102e" stroke-width="1.0"/>
<circle cx="410.5" cy="592.2" r="1.6" fill="#c8102e"/>
<circle cx="399.5" cy="603.8" r="1.6" fill="#c8102e"/>
<circle cx="403.5" cy="606.2" r="1.6" fill="#c8102e"/>
<circle cx="407.7" cy="602.6" r="1.6" fill="#c8102e"/>
<circle cx="411.8" cy="604.6" r="1.6" fill="#c8102e"/>
<circle cx="416.2" cy="602.3" r="1.6" fill="#c8102e"/>
<circle cx="407.7" cy="606.9" r="1.6" fill="#c8102e"/>
<circle cx="405.7" cy="611.5" r="1.6" fill="#c8102e"/>
<circle cx="409.7" cy="615.8" r="1.6" fill="#c8102e"/>
<circle cx="403.5" cy="622" r="1.6" fill="#c8102e"/>
<circle cx="407.7" cy="622.3" r="1.6" fill="#c8102e"/>
<circle cx="412" cy="620.5" r="1.6" fill="#c8102e"/>
<circle cx="405.7" cy="627.4" r="1.6" fill="#c8102e"/>
<circle cx="410" cy="629.2" r="1.6" fill="#c8102e"/>
<circle cx="407.7" cy="636.6" r="1.6" fill="#c8102e"/>
<circle cx="408.2" cy="663.8" r="1.6" fill="#c8102e"/>
<rect x="0" y="0" width="520" height="1.2" fill="#000"/>
<rect x="0" y="0" width="1.2" height="700" fill="#000"/>
<rect x="518.6" y="0" width="1.4" height="700" fill="#000"/>
<rect x="0" y="698.3" width="520" height="1.7" fill="#000"/>
</svg>
</body></html>
